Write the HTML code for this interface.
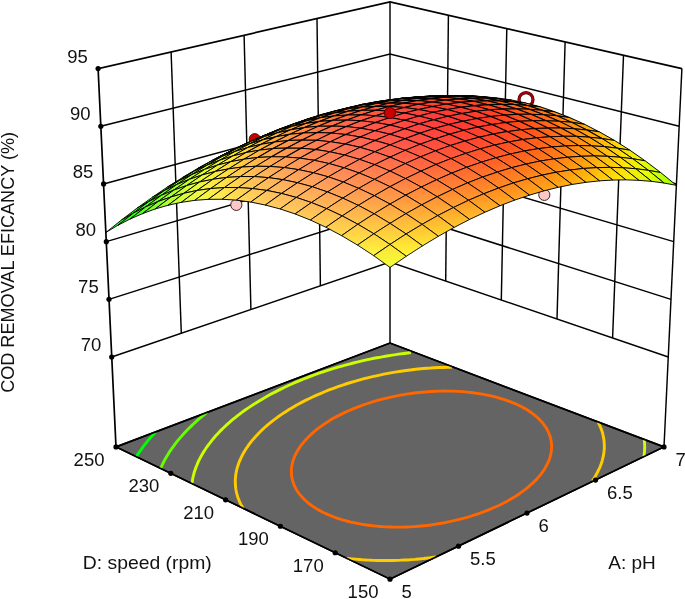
<!DOCTYPE html>
<html><head><meta charset="utf-8"><title>3D Surface</title>
<style>html,body{margin:0;padding:0;background:#fff;overflow:hidden}body{width:685px;height:599px;position:relative}</style></head>
<body>
<svg width="685" height="599" viewBox="0 0 685 599" style="display:block;position:absolute;left:0;top:0">
<rect width="685" height="599" fill="#fff"/>
<g transform="translate(0.3,0.15)">
<polygon points="389.7,579 115.7,446.8 389.7,342.9 663.7,446.8" fill="#646464" stroke="#000" stroke-width="1.6" stroke-linejoin="miter"/>
<g fill="none" stroke-width="2.9" stroke-linecap="butt">
<polyline points="136.1,456.6 136.1,456.5 137.1,454.9 137.6,454.1 138.2,453.2 139.2,451.8 139.4,451.5 140.5,449.9 140.9,449.4 141.7,448.2 142.6,446.9 142.8,446.6 144,445 144.5,444.5 145.3,443.4 146.4,442 146.5,441.9 147.8,440.3 148.5,439.5 149.1,438.8 150.4,437.3 150.7,436.9 151.7,435.8 152.9,434.3 153,434.3 154.4,432.8 155.4,431.7" stroke="#00ff00"/>
<polyline points="160.4,468.3 161.2,466.5 162.1,464.4 163.2,462.1 164.4,459.8 165.7,457.5 166.7,455.8 167.8,454.1 168.8,452.4 170.1,450.4 171.8,448 173.3,445.9 174.5,444.3 175.7,442.8 177.4,440.5 179.4,438.2 180.7,436.7 182,435.2 184.3,432.7 186,430.8 187.4,429.4 189.6,427.2 191.7,425.2 193.1,423.9 195.7,421.5 197.6,419.8 199.1,418.5 202.2,415.9 203.7,414.6 206.7,412.3" stroke="#66ff00"/>
<polyline points="191.7,483.4 192,481.3 192.3,479.2 192.7,477.1 193.2,475.1 193.7,473.1 194.3,471.1 195,469.2 195.6,467.3 196.4,465.5 197.2,463.4 198.2,461.1 199.4,458.8 200.6,456.5 201.5,454.8 202.5,453.1 203.5,451.5 204.9,449.4 206.5,446.9 207.9,445 209.1,443.5 210.3,441.9 212.4,439.3 214,437.4 215.2,435.9 217,434 219.2,431.6 220.6,430.2 222.5,428.3 224.9,426.1 226.3,424.7 228.9,422.4 230.8,420.8 232.6,419.3 235.5,417 237,415.7 240.3,413.2 241.9,412 245.2,409.6 246.9,408.5 250.3,406.2 252.1,405 255.6,402.8 258.8,400.8 261,399.5 264.7,397.3 267.2,395.9 270.3,394.2 274.1,392.2 278,390.2 280,389.2 283.9,387.3 288,385.4 292.1,383.6 296.2,381.8 300.5,380 302.6,379.1 306.9,377.4 311.3,375.8 315.8,374.1 318,373.3 322.6,371.8 327.2,370.2 331.9,368.8 336.7,367.3 341.5,365.9 344,365.2 349,363.9 354,362.6 356.6,362 361.8,360.8 366,359.8 369.8,359 375,357.9 378,357.4 383.1,356.4 386.5,355.8 390.5,355.2 395.3,354.5 398.2,354 403.7,353.3 407.4,352.8 410.6,352.4" stroke="#ccff00"/>
<polyline points="643.9,439.2 644.1,440.9 644.1,441 644.2,442.8 644.3,443 644.3,444.6 644.3,445.1 644.4,446.3 644.4,447.3 644.3,448.1 644.3,449.5 644.3,449.8 644.2,451.5 644.1,451.8 644,453.2 643.9,454.1 643.8,454.9 643.6,456.5" stroke="#ccff00"/>
<polyline points="242.7,508.1 241.3,505.6 240.4,504 239.4,501.8 238.2,498.9 237.5,497.1 237,495.3 236.5,493.5 235.9,490.9 235.5,488.5 235.2,486.1 235.1,484.2 235,482.3 235,480.3 235.1,478.3 235.3,476.3 235.5,474.3 235.9,472.2 236.3,470.2 236.8,468 237.5,465.9 238.2,463.7 239,461.5 239.8,459.7 240.6,458 241.4,456.2 242.3,454.5 243.5,452.3 245,449.8 246.2,447.9 247.3,446.4 248.4,444.8 250.3,442.2 251.9,440.2 253.2,438.8 254.9,436.8 257.1,434.5 258.4,433.1 260.4,431.1 262.6,429 264.1,427.6 267.1,425 268.6,423.7 271.4,421.5 273.3,420 276.1,417.9 278.2,416.3 281.6,414 283.4,412.8 286.9,410.6 288.7,409.4 292.3,407.3 296,405.1 297.9,404.1 301.8,402 305.7,400 309.7,398.1 311.7,397.1 315.8,395.2 320.1,393.4 324.3,391.6 328.7,389.8 333.2,388.2 337.7,386.5 342.4,384.9 346.3,383.6 349.5,382.6 354.4,381.2 359.4,379.8 363,378.8 367.1,377.7 372.3,376.5 375,375.9 380.5,374.7 383.7,374 388.9,373 391.8,372.5 397.7,371.5 400.8,371.1 405.7,370.4 410.1,369.8 413.3,369.4 417.7,368.9 423.2,368.4 426.8,368.1 430.3,367.9 433.9,367.6 438.3,367.4 442.9,367.3 447.4,367.1 451.7,367.1" stroke="#ffcc00"/>
<polyline points="435.7,556.8 435.4,556.9 431.4,557.4 428.7,557.7 427.4,557.9 423.3,558.4 422.1,558.5 419.1,558.8 415.7,559.1 414.8,559.2 410.5,559.5 409.6,559.6 406,559.8 403.8,559.9 401.4,560 398.1,560.2 396.7,560.2 392.7,560.3 391.8,560.4 387.4,560.4 386.9,560.4 382.3,560.4 381.7,560.4 377.4,560.3 376.4,560.3 372.6,560.2 370.9,560.1 368,560 365.2,559.8 363.4,559.7 359.2,559.4 359,559.4 354.8,559 352.9,558.8 350.6,558.6 346.5,558.1 346.2,558" stroke="#ffcc00"/>
<polyline points="597.6,421.7 598.7,423.8 599.7,425.9 600.4,427.6 601.1,429.3 601.7,431.1 602.3,432.9 602.7,434.8 603.1,436.7 603.5,438.7 603.7,440.6 603.9,442.7 604,444.8 604,446.6 604,448.4 603.8,450.1 603.7,451.8 603.4,453.6 603,456 602.4,458.5 602,460.2 601.5,461.8 600.9,463.6 599.9,466.3 599.1,468.2 598.3,469.8 597.2,472 595.9,474.5 595.1,476 593.6,478.3 592.2,480.5" stroke="#ffcc00"/>
<polyline points="336.8,518 332.9,516.6 327.8,514.5 323,512.3 318.6,510 314.8,507.7 312.6,506.2 308.9,503.6 306.5,501.6 304.1,499.4 302,497.2 300,495 298.8,493.5 296.6,490.3 295.7,488.7 294.8,487 293.7,484.6 292.7,481.9 292.2,480.1 291.8,478.3 291.4,476.5 291.2,474.6 291.1,472.6 291.1,470.4 291.2,468.4 291.4,466.4 291.8,464.4 292.2,462.5 292.8,460.3 293.6,458.1 294.5,455.8 295.6,453.6 296.4,452 297.4,450.4 298.5,448.6 300.2,446 301.6,444.1 302.8,442.7 304.6,440.5 306.6,438.4 307.9,437 310.6,434.4 312.2,433 314.5,431 316.8,429.1 319.2,427.3 321.7,425.5 325.1,423.1 326.9,422 330.5,419.7 334,417.7 336.2,416.5 340.2,414.5 344.2,412.5 348.4,410.6 352.7,408.7 357.2,406.9 361.8,405.2 366.5,403.6 371.4,402 376.4,400.5 379,399.8 384.3,398.4 389.5,397.2 392.6,396.5 398.3,395.4 401.3,394.8 405.9,394 410.6,393.4 413.8,392.9 418.7,392.4 424,391.8 427.6,391.6 431.3,391.3 435.2,391.1 439.2,391 443.7,390.9 448,391 452.1,391 456.9,391.2 462,391.5 467,392 470.5,392.3 473.8,392.7 480.2,393.7 483.2,394.2 489.1,395.4 491.9,396 497.3,397.4 502.4,398.9 504.9,399.7 509.6,401.4 514.1,403.2 516.3,404.1 520.4,406.1 524.3,408.2 527.5,410.1 529.7,411.6 533,413.9 534.6,415.2 536.8,417.1 539,419.2 540.3,420.5 542.2,422.6 543.9,424.9 545,426.4 546,427.9 547,429.7 548.1,431.9 549,434 549.7,436.1 550.3,438.1 550.7,440 551,441.9 551.2,443.8 551.3,445.6 551.3,447.5 551.2,449.2 551,451 550.8,452.7 550.3,454.8 549.7,457.2 549,459.4 548.3,461 547.7,462.6 546.4,465.2 545.2,467.2 544.3,468.8 542.6,471.3 541.2,473.2 540.1,474.7 537.7,477.5 536.4,479 533.7,481.7 532.2,483.1 529.2,485.8 527.6,487.2 524.4,489.7 520.9,492.3 519.1,493.6 515.4,496 511.4,498.4 507.3,500.8 503,503.1 498.5,505.3 493.8,507.4 488.9,509.5 483.8,511.5 478.5,513.5 472.9,515.3 470.1,516.2 464.2,517.9 460,519 454.8,520.3 450.2,521.3 444.8,522.4 441.3,523.1 434.1,524.2 430.3,524.8 426.5,525.3 420.8,525.8 414.8,526.4 409.8,526.7 405.3,526.8 400.5,527 395.6,527 390.5,526.9 385.1,526.7 380.2,526.4 376,526 371.9,525.6 366.4,524.9 360.7,524 357.2,523.3 350.5,521.9 347.3,521.1 341.3,519.4 336.8,518" stroke="#ff6600"/>
</g>
<polygon points="389.7,579 115.7,446.8 389.7,342.9 663.7,446.8" fill="none" stroke="#000" stroke-width="1.6"/>
<g fill="none" stroke="#000" stroke-width="1.45">
<polyline points="115.7,446.8 97.8,68.4 389.7,1.8 681.6,68.4" stroke-width="1.7"/>
<line x1="681.6" y1="68.4" x2="663.7" y2="446.8"/>
<line x1="389.7" y1="1.8" x2="389.7" y2="342.9"/>
<polyline points="100.5,126.1 389.7,53.8 678.9,126.1"/>
<polyline points="103.3,183.8 389.7,105.8 676.1,183.8"/>
<polyline points="106,241.5 389.7,157.8 673.4,241.5"/>
<polyline points="108.7,299.2 389.7,209.8 670.7,299.2"/>
<polyline points="111.4,356.9 389.7,261.9 668,356.9"/>
<line x1="181" y1="333.1" x2="170.8" y2="51.8"/>
<line x1="250.6" y1="309.4" x2="243.8" y2="35.1"/>
<line x1="320.1" y1="285.6" x2="316.7" y2="18.5"/>
<line x1="612.3" y1="337.9" x2="623.2" y2="55.1"/>
<line x1="556.7" y1="318.9" x2="564.8" y2="41.8"/>
<line x1="501" y1="299.9" x2="506.5" y2="28.4"/>
<line x1="445.4" y1="280.9" x2="448.1" y2="15.1"/>
</g>
<circle cx="236" cy="204.7" r="5.6" fill="#ffc8c8" stroke="#301010" stroke-width="0.9"/>
<circle cx="544" cy="194.7" r="5.6" fill="#ffc8c8" stroke="#301010" stroke-width="0.9"/>
<circle cx="525.7" cy="99.4" r="7" fill="#fff" stroke="#3a0004" stroke-width="3.2"/><circle cx="525.7" cy="99.4" r="7" fill="none" stroke="#b00010" stroke-width="1.7"/>
<circle cx="254.5" cy="139" r="5.6" fill="#c80000" stroke="#500000" stroke-width="0.9"/>
<defs><linearGradient id="g0" gradientUnits="userSpaceOnUse" x1="389.9" y1="267.2" x2="389.5" y2="244.2"><stop stop-color="#f1ff37"/><stop offset="1" stop-color="#ffe237"/></linearGradient><linearGradient id="g1" gradientUnits="userSpaceOnUse" x1="406.4" y1="256" x2="405.5" y2="233.8"><stop stop-color="#fff935"/><stop offset="1" stop-color="#ffcf35"/></linearGradient><linearGradient id="g2" gradientUnits="userSpaceOnUse" x1="422.7" y1="245.5" x2="421.2" y2="224.2"><stop stop-color="#ffe632"/><stop offset="1" stop-color="#ffbe32"/></linearGradient><linearGradient id="g3" gradientUnits="userSpaceOnUse" x1="438.8" y1="235.9" x2="436.8" y2="215.4"><stop stop-color="#ffd62f"/><stop offset="1" stop-color="#ffaf2f"/></linearGradient><linearGradient id="g4" gradientUnits="userSpaceOnUse" x1="454.7" y1="227.1" x2="452.1" y2="207.4"><stop stop-color="#ffc82c"/><stop offset="1" stop-color="#ffa32c"/></linearGradient><linearGradient id="g5" gradientUnits="userSpaceOnUse" x1="470.4" y1="219" x2="467.2" y2="200.2"><stop stop-color="#ffbc29"/><stop offset="1" stop-color="#ff9829"/></linearGradient><linearGradient id="g6" gradientUnits="userSpaceOnUse" x1="485.9" y1="211.7" x2="482.1" y2="193.8"><stop stop-color="#ffb325"/><stop offset="1" stop-color="#ff9025"/></linearGradient><linearGradient id="g7" gradientUnits="userSpaceOnUse" x1="501.2" y1="205.2" x2="496.8" y2="188.2"><stop stop-color="#ffab22"/><stop offset="1" stop-color="#ff8a22"/></linearGradient><linearGradient id="g8" gradientUnits="userSpaceOnUse" x1="516.2" y1="199.3" x2="511.2" y2="183.3"><stop stop-color="#ffa71e"/><stop offset="1" stop-color="#ff871e"/></linearGradient><linearGradient id="g9" gradientUnits="userSpaceOnUse" x1="531.6" y1="195.4" x2="525.1" y2="178.3"><stop stop-color="#ffa81b"/><stop offset="1" stop-color="#ff861b"/></linearGradient><linearGradient id="g10" gradientUnits="userSpaceOnUse" x1="547" y1="192.3" x2="538.3" y2="173.6"><stop stop-color="#ffac18"/><stop offset="1" stop-color="#ff8618"/></linearGradient><linearGradient id="g11" gradientUnits="userSpaceOnUse" x1="562.5" y1="189.7" x2="551.2" y2="169.7"><stop stop-color="#ffb315"/><stop offset="1" stop-color="#ff8915"/></linearGradient><linearGradient id="g12" gradientUnits="userSpaceOnUse" x1="578" y1="187.6" x2="563.5" y2="166.8"><stop stop-color="#ffbe12"/><stop offset="1" stop-color="#ff8f12"/></linearGradient><linearGradient id="g13" gradientUnits="userSpaceOnUse" x1="593.5" y1="185.8" x2="575.4" y2="165"><stop stop-color="#ffcc0f"/><stop offset="1" stop-color="#ff990f"/></linearGradient><linearGradient id="g14" gradientUnits="userSpaceOnUse" x1="608.9" y1="184" x2="586.9" y2="164.3"><stop stop-color="#ffdd0d"/><stop offset="1" stop-color="#ffa60d"/></linearGradient><linearGradient id="g15" gradientUnits="userSpaceOnUse" x1="624.1" y1="182.3" x2="598.3" y2="165"><stop stop-color="#fff20b"/><stop offset="1" stop-color="#ffb70b"/></linearGradient><linearGradient id="g16" gradientUnits="userSpaceOnUse" x1="638.6" y1="180.4" x2="610" y2="167"><stop stop-color="#f4ff09"/><stop offset="1" stop-color="#ffcb09"/></linearGradient><linearGradient id="g17" gradientUnits="userSpaceOnUse" x1="652.1" y1="178.8" x2="622.1" y2="170.1"><stop stop-color="#d8ff07"/><stop offset="1" stop-color="#ffe207"/></linearGradient><linearGradient id="g18" gradientUnits="userSpaceOnUse" x1="664.6" y1="177.7" x2="634.9" y2="173.8"><stop stop-color="#b9ff06"/><stop offset="1" stop-color="#fffd06"/></linearGradient><linearGradient id="g19" gradientUnits="userSpaceOnUse" x1="676" y1="177.4" x2="648.3" y2="177.9"><stop stop-color="#96ff05"/><stop offset="1" stop-color="#e3ff05"/></linearGradient><linearGradient id="g20" gradientUnits="userSpaceOnUse" x1="373.2" y1="255.4" x2="373.7" y2="233.6"><stop stop-color="#fff73f"/><stop offset="1" stop-color="#ffd13f"/></linearGradient><linearGradient id="g21" gradientUnits="userSpaceOnUse" x1="389.8" y1="244.2" x2="389.6" y2="223.1"><stop stop-color="#ffe33d"/><stop offset="1" stop-color="#ffbe3d"/></linearGradient><linearGradient id="g22" gradientUnits="userSpaceOnUse" x1="406.1" y1="233.8" x2="405.4" y2="213.4"><stop stop-color="#ffd03a"/><stop offset="1" stop-color="#ffad3a"/></linearGradient><linearGradient id="g23" gradientUnits="userSpaceOnUse" x1="422.2" y1="224.1" x2="420.9" y2="204.6"><stop stop-color="#ffc037"/><stop offset="1" stop-color="#ff9e37"/></linearGradient><linearGradient id="g24" gradientUnits="userSpaceOnUse" x1="438.1" y1="215.3" x2="436.3" y2="196.6"><stop stop-color="#ffb134"/><stop offset="1" stop-color="#ff9034"/></linearGradient><linearGradient id="g25" gradientUnits="userSpaceOnUse" x1="453.8" y1="207.2" x2="451.4" y2="189.3"><stop stop-color="#ffa430"/><stop offset="1" stop-color="#ff8530"/></linearGradient><linearGradient id="g26" gradientUnits="userSpaceOnUse" x1="469.3" y1="199.8" x2="466.3" y2="182.8"><stop stop-color="#ff9a2c"/><stop offset="1" stop-color="#ff7c2c"/></linearGradient><linearGradient id="g27" gradientUnits="userSpaceOnUse" x1="484.7" y1="193.2" x2="480.9" y2="177.1"><stop stop-color="#ff9228"/><stop offset="1" stop-color="#ff7528"/></linearGradient><linearGradient id="g28" gradientUnits="userSpaceOnUse" x1="499.8" y1="187.3" x2="495.4" y2="172.2"><stop stop-color="#ff8c24"/><stop offset="1" stop-color="#ff7124"/></linearGradient><linearGradient id="g29" gradientUnits="userSpaceOnUse" x1="515.1" y1="183.1" x2="509.4" y2="167.4"><stop stop-color="#ff8b21"/><stop offset="1" stop-color="#ff6e21"/></linearGradient><linearGradient id="g30" gradientUnits="userSpaceOnUse" x1="530.6" y1="180.1" x2="522.7" y2="162.6"><stop stop-color="#ff8d1d"/><stop offset="1" stop-color="#ff6d1d"/></linearGradient><linearGradient id="g31" gradientUnits="userSpaceOnUse" x1="546.2" y1="177.6" x2="535.4" y2="158.5"><stop stop-color="#ff9319"/><stop offset="1" stop-color="#ff6e19"/></linearGradient><linearGradient id="g32" gradientUnits="userSpaceOnUse" x1="561.9" y1="175.5" x2="547.6" y2="155.5"><stop stop-color="#ff9c16"/><stop offset="1" stop-color="#ff7316"/></linearGradient><linearGradient id="g33" gradientUnits="userSpaceOnUse" x1="577.7" y1="173.5" x2="559.3" y2="153.6"><stop stop-color="#ffa813"/><stop offset="1" stop-color="#ff7b13"/></linearGradient><linearGradient id="g34" gradientUnits="userSpaceOnUse" x1="593.4" y1="171.5" x2="570.6" y2="153.1"><stop stop-color="#ffb810"/><stop offset="1" stop-color="#ff8710"/></linearGradient><linearGradient id="g35" gradientUnits="userSpaceOnUse" x1="608.7" y1="169.3" x2="582" y2="154.1"><stop stop-color="#ffcc0e"/><stop offset="1" stop-color="#ff960e"/></linearGradient><linearGradient id="g36" gradientUnits="userSpaceOnUse" x1="623.1" y1="166.9" x2="593.9" y2="156.5"><stop stop-color="#ffe30b"/><stop offset="1" stop-color="#ffa90b"/></linearGradient><linearGradient id="g37" gradientUnits="userSpaceOnUse" x1="636.2" y1="164.9" x2="606.5" y2="159.9"><stop stop-color="#fffd09"/><stop offset="1" stop-color="#ffbf09"/></linearGradient><linearGradient id="g38" gradientUnits="userSpaceOnUse" x1="648.2" y1="163.6" x2="619.9" y2="163.6"><stop stop-color="#e3ff08"/><stop offset="1" stop-color="#ffd908"/></linearGradient><linearGradient id="g39" gradientUnits="userSpaceOnUse" x1="659.2" y1="163.6" x2="633.9" y2="167.4"><stop stop-color="#c1ff06"/><stop offset="1" stop-color="#fff606"/></linearGradient><linearGradient id="g40" gradientUnits="userSpaceOnUse" x1="356.8" y1="244.8" x2="358.1" y2="224.1"><stop stop-color="#ffe646"/><stop offset="1" stop-color="#ffc546"/></linearGradient><linearGradient id="g41" gradientUnits="userSpaceOnUse" x1="373.3" y1="233.5" x2="374" y2="213.6"><stop stop-color="#ffd244"/><stop offset="1" stop-color="#ffb244"/></linearGradient><linearGradient id="g42" gradientUnits="userSpaceOnUse" x1="389.7" y1="223.1" x2="389.7" y2="203.9"><stop stop-color="#ffc042"/><stop offset="1" stop-color="#ffa142"/></linearGradient><linearGradient id="g43" gradientUnits="userSpaceOnUse" x1="405.8" y1="213.4" x2="405.3" y2="195"><stop stop-color="#ffaf3f"/><stop offset="1" stop-color="#ff913f"/></linearGradient><linearGradient id="g44" gradientUnits="userSpaceOnUse" x1="421.7" y1="204.6" x2="420.6" y2="186.9"><stop stop-color="#ffa03b"/><stop offset="1" stop-color="#ff843b"/></linearGradient><linearGradient id="g45" gradientUnits="userSpaceOnUse" x1="437.4" y1="196.4" x2="435.7" y2="179.5"><stop stop-color="#ff9337"/><stop offset="1" stop-color="#ff7737"/></linearGradient><linearGradient id="g46" gradientUnits="userSpaceOnUse" x1="453" y1="189.1" x2="450.6" y2="173"><stop stop-color="#ff8733"/><stop offset="1" stop-color="#ff6d33"/></linearGradient><linearGradient id="g47" gradientUnits="userSpaceOnUse" x1="468.3" y1="182.4" x2="465.3" y2="167.2"><stop stop-color="#ff7e2f"/><stop offset="1" stop-color="#ff652f"/></linearGradient><linearGradient id="g48" gradientUnits="userSpaceOnUse" x1="483.5" y1="176.5" x2="479.8" y2="162.2"><stop stop-color="#ff772b"/><stop offset="1" stop-color="#ff602b"/></linearGradient><linearGradient id="g49" gradientUnits="userSpaceOnUse" x1="498.7" y1="171.9" x2="493.9" y2="157.7"><stop stop-color="#ff7326"/><stop offset="1" stop-color="#ff5c26"/></linearGradient><linearGradient id="g50" gradientUnits="userSpaceOnUse" x1="514.3" y1="169" x2="507.1" y2="152.6"><stop stop-color="#ff7422"/><stop offset="1" stop-color="#ff5922"/></linearGradient><linearGradient id="g51" gradientUnits="userSpaceOnUse" x1="530.1" y1="166.6" x2="519.8" y2="148.4"><stop stop-color="#ff781e"/><stop offset="1" stop-color="#ff591e"/></linearGradient><linearGradient id="g52" gradientUnits="userSpaceOnUse" x1="546.1" y1="164.4" x2="531.7" y2="145.2"><stop stop-color="#ff801a"/><stop offset="1" stop-color="#ff5d1a"/></linearGradient><linearGradient id="g53" gradientUnits="userSpaceOnUse" x1="562.3" y1="162.3" x2="543.1" y2="143.4"><stop stop-color="#ff8a17"/><stop offset="1" stop-color="#ff6317"/></linearGradient><linearGradient id="g54" gradientUnits="userSpaceOnUse" x1="578.4" y1="159.8" x2="554.2" y2="143.2"><stop stop-color="#ff9914"/><stop offset="1" stop-color="#ff6d14"/></linearGradient><linearGradient id="g55" gradientUnits="userSpaceOnUse" x1="593.7" y1="156.8" x2="565.7" y2="144.8"><stop stop-color="#ffab11"/><stop offset="1" stop-color="#ff7b11"/></linearGradient><linearGradient id="g56" gradientUnits="userSpaceOnUse" x1="607.6" y1="153.8" x2="578" y2="147.7"><stop stop-color="#ffc00e"/><stop offset="1" stop-color="#ff8c0e"/></linearGradient><linearGradient id="g57" gradientUnits="userSpaceOnUse" x1="620" y1="151.5" x2="591.5" y2="151.2"><stop stop-color="#ffd90c"/><stop offset="1" stop-color="#ffa10c"/></linearGradient><linearGradient id="g58" gradientUnits="userSpaceOnUse" x1="631.3" y1="150.5" x2="605.7" y2="154.6"><stop stop-color="#fff60a"/><stop offset="1" stop-color="#ffb90a"/></linearGradient><linearGradient id="g59" gradientUnits="userSpaceOnUse" x1="641.9" y1="150.9" x2="620.1" y2="157.7"><stop stop-color="#e8ff08"/><stop offset="1" stop-color="#ffd508"/></linearGradient><linearGradient id="g60" gradientUnits="userSpaceOnUse" x1="340.6" y1="235.3" x2="342.7" y2="215.8"><stop stop-color="#ffdb4d"/><stop offset="1" stop-color="#ffbd4d"/></linearGradient><linearGradient id="g61" gradientUnits="userSpaceOnUse" x1="357.1" y1="224" x2="358.6" y2="205.2"><stop stop-color="#ffc74c"/><stop offset="1" stop-color="#ffaa4c"/></linearGradient><linearGradient id="g62" gradientUnits="userSpaceOnUse" x1="373.4" y1="213.5" x2="374.3" y2="195.4"><stop stop-color="#ffb449"/><stop offset="1" stop-color="#ff9949"/></linearGradient><linearGradient id="g63" gradientUnits="userSpaceOnUse" x1="389.5" y1="203.9" x2="389.9" y2="186.5"><stop stop-color="#ffa346"/><stop offset="1" stop-color="#ff8a46"/></linearGradient><linearGradient id="g64" gradientUnits="userSpaceOnUse" x1="405.5" y1="195" x2="405.2" y2="178.3"><stop stop-color="#ff9443"/><stop offset="1" stop-color="#ff7b43"/></linearGradient><linearGradient id="g65" gradientUnits="userSpaceOnUse" x1="421.2" y1="186.8" x2="420.3" y2="170.9"><stop stop-color="#ff863f"/><stop offset="1" stop-color="#ff6f3f"/></linearGradient><linearGradient id="g66" gradientUnits="userSpaceOnUse" x1="436.8" y1="179.4" x2="435.2" y2="164.3"><stop stop-color="#ff7a3a"/><stop offset="1" stop-color="#ff643a"/></linearGradient><linearGradient id="g67" gradientUnits="userSpaceOnUse" x1="452.2" y1="172.8" x2="449.9" y2="158.4"><stop stop-color="#ff6f36"/><stop offset="1" stop-color="#ff5b36"/></linearGradient><linearGradient id="g68" gradientUnits="userSpaceOnUse" x1="467.4" y1="166.8" x2="464.3" y2="153.3"><stop stop-color="#ff6731"/><stop offset="1" stop-color="#ff5431"/></linearGradient><linearGradient id="g69" gradientUnits="userSpaceOnUse" x1="482.5" y1="161.8" x2="478.5" y2="149"><stop stop-color="#ff612c"/><stop offset="1" stop-color="#ff502c"/></linearGradient><linearGradient id="g70" gradientUnits="userSpaceOnUse" x1="498.2" y1="159" x2="491.8" y2="143.8"><stop stop-color="#ff6128"/><stop offset="1" stop-color="#ff4b28"/></linearGradient><linearGradient id="g71" gradientUnits="userSpaceOnUse" x1="514.3" y1="156.6" x2="504.2" y2="139.3"><stop stop-color="#ff6323"/><stop offset="1" stop-color="#ff4a23"/></linearGradient><linearGradient id="g72" gradientUnits="userSpaceOnUse" x1="530.8" y1="154.5" x2="515.8" y2="136"><stop stop-color="#ff691f"/><stop offset="1" stop-color="#ff4c1f"/></linearGradient><linearGradient id="g73" gradientUnits="userSpaceOnUse" x1="547.5" y1="151.9" x2="526.7" y2="134.5"><stop stop-color="#ff721b"/><stop offset="1" stop-color="#ff511b"/></linearGradient><linearGradient id="g74" gradientUnits="userSpaceOnUse" x1="563.9" y1="148.5" x2="537.6" y2="135"><stop stop-color="#ff7f17"/><stop offset="1" stop-color="#ff5917"/></linearGradient><linearGradient id="g75" gradientUnits="userSpaceOnUse" x1="578.7" y1="144.5" x2="549.5" y2="137.5"><stop stop-color="#ff8f14"/><stop offset="1" stop-color="#ff6514"/></linearGradient><linearGradient id="g76" gradientUnits="userSpaceOnUse" x1="591.6" y1="141" x2="563" y2="140.7"><stop stop-color="#ffa311"/><stop offset="1" stop-color="#ff7511"/></linearGradient><linearGradient id="g77" gradientUnits="userSpaceOnUse" x1="603" y1="139" x2="577.6" y2="143.7"><stop stop-color="#ffbb0e"/><stop offset="1" stop-color="#ff880e"/></linearGradient><linearGradient id="g78" gradientUnits="userSpaceOnUse" x1="613.7" y1="138.6" x2="592.4" y2="146.3"><stop stop-color="#ffd60c"/><stop offset="1" stop-color="#ff9f0c"/></linearGradient><linearGradient id="g79" gradientUnits="userSpaceOnUse" x1="624.3" y1="139.7" x2="607" y2="148.6"><stop stop-color="#fff50a"/><stop offset="1" stop-color="#ffba0a"/></linearGradient><linearGradient id="g80" gradientUnits="userSpaceOnUse" x1="324.5" y1="226.9" x2="327.5" y2="208.6"><stop stop-color="#ffd353"/><stop offset="1" stop-color="#ffb953"/></linearGradient><linearGradient id="g81" gradientUnits="userSpaceOnUse" x1="341" y1="215.6" x2="343.4" y2="198"><stop stop-color="#ffbf52"/><stop offset="1" stop-color="#ffa652"/></linearGradient><linearGradient id="g82" gradientUnits="userSpaceOnUse" x1="357.3" y1="205.1" x2="359.2" y2="188.2"><stop stop-color="#ffac50"/><stop offset="1" stop-color="#ff9550"/></linearGradient><linearGradient id="g83" gradientUnits="userSpaceOnUse" x1="373.5" y1="195.4" x2="374.7" y2="179.1"><stop stop-color="#ff9b4d"/><stop offset="1" stop-color="#ff864d"/></linearGradient><linearGradient id="g84" gradientUnits="userSpaceOnUse" x1="389.4" y1="186.5" x2="390" y2="170.8"><stop stop-color="#ff8c49"/><stop offset="1" stop-color="#ff7749"/></linearGradient><linearGradient id="g85" gradientUnits="userSpaceOnUse" x1="405.2" y1="178.3" x2="405.1" y2="163.3"><stop stop-color="#ff7d45"/><stop offset="1" stop-color="#ff6a45"/></linearGradient><linearGradient id="g86" gradientUnits="userSpaceOnUse" x1="420.7" y1="170.9" x2="420" y2="156.6"><stop stop-color="#ff7041"/><stop offset="1" stop-color="#ff5e41"/></linearGradient><linearGradient id="g87" gradientUnits="userSpaceOnUse" x1="436.2" y1="164.1" x2="434.7" y2="150.7"><stop stop-color="#ff653c"/><stop offset="1" stop-color="#ff553c"/></linearGradient><linearGradient id="g88" gradientUnits="userSpaceOnUse" x1="451.4" y1="158.1" x2="449.1" y2="145.5"><stop stop-color="#ff5c37"/><stop offset="1" stop-color="#ff4d37"/></linearGradient><linearGradient id="g89" gradientUnits="userSpaceOnUse" x1="466.5" y1="152.7" x2="463.3" y2="141.1"><stop stop-color="#ff5532"/><stop offset="1" stop-color="#ff4732"/></linearGradient><linearGradient id="g90" gradientUnits="userSpaceOnUse" x1="482.3" y1="150" x2="476.5" y2="136"><stop stop-color="#ff532d"/><stop offset="1" stop-color="#ff422d"/></linearGradient><linearGradient id="g91" gradientUnits="userSpaceOnUse" x1="498.8" y1="147.9" x2="488.6" y2="131.2"><stop stop-color="#ff5428"/><stop offset="1" stop-color="#ff4028"/></linearGradient><linearGradient id="g92" gradientUnits="userSpaceOnUse" x1="516.1" y1="145.5" x2="499.5" y2="127.9"><stop stop-color="#ff5824"/><stop offset="1" stop-color="#ff4024"/></linearGradient><linearGradient id="g93" gradientUnits="userSpaceOnUse" x1="533.6" y1="142" x2="509.7" y2="127.2"><stop stop-color="#ff5f1f"/><stop offset="1" stop-color="#ff431f"/></linearGradient><linearGradient id="g94" gradientUnits="userSpaceOnUse" x1="549.7" y1="137" x2="520.9" y2="129.1"><stop stop-color="#ff6a1b"/><stop offset="1" stop-color="#ff4a1b"/></linearGradient><linearGradient id="g95" gradientUnits="userSpaceOnUse" x1="563" y1="132" x2="534.4" y2="132.3"><stop stop-color="#ff7917"/><stop offset="1" stop-color="#ff5417"/></linearGradient><linearGradient id="g96" gradientUnits="userSpaceOnUse" x1="574.4" y1="128.9" x2="549.5" y2="135"><stop stop-color="#ff8b14"/><stop offset="1" stop-color="#ff6314"/></linearGradient><linearGradient id="g97" gradientUnits="userSpaceOnUse" x1="585" y1="127.9" x2="564.9" y2="136.9"><stop stop-color="#ffa111"/><stop offset="1" stop-color="#ff7411"/></linearGradient><linearGradient id="g98" gradientUnits="userSpaceOnUse" x1="595.7" y1="128.5" x2="579.8" y2="138.3"><stop stop-color="#ffbb0e"/><stop offset="1" stop-color="#ff8a0e"/></linearGradient><linearGradient id="g99" gradientUnits="userSpaceOnUse" x1="606.6" y1="130.3" x2="594.2" y2="139.8"><stop stop-color="#ffd90b"/><stop offset="1" stop-color="#ffa30b"/></linearGradient><linearGradient id="g100" gradientUnits="userSpaceOnUse" x1="308.7" y1="219.5" x2="312.6" y2="202.7"><stop stop-color="#ffce58"/><stop offset="1" stop-color="#ffb758"/></linearGradient><linearGradient id="g101" gradientUnits="userSpaceOnUse" x1="325.1" y1="208.2" x2="328.5" y2="191.9"><stop stop-color="#ffba57"/><stop offset="1" stop-color="#ffa557"/></linearGradient><linearGradient id="g102" gradientUnits="userSpaceOnUse" x1="341.4" y1="197.7" x2="344.2" y2="182"><stop stop-color="#ffa855"/><stop offset="1" stop-color="#ff9455"/></linearGradient><linearGradient id="g103" gradientUnits="userSpaceOnUse" x1="357.5" y1="187.9" x2="359.8" y2="172.9"><stop stop-color="#ff9752"/><stop offset="1" stop-color="#ff8552"/></linearGradient><linearGradient id="g104" gradientUnits="userSpaceOnUse" x1="373.5" y1="179" x2="375.1" y2="164.5"><stop stop-color="#ff874f"/><stop offset="1" stop-color="#ff764f"/></linearGradient><linearGradient id="g105" gradientUnits="userSpaceOnUse" x1="389.2" y1="170.8" x2="390.2" y2="156.9"><stop stop-color="#ff794b"/><stop offset="1" stop-color="#ff694b"/></linearGradient><linearGradient id="g106" gradientUnits="userSpaceOnUse" x1="404.8" y1="163.3" x2="405.1" y2="150.1"><stop stop-color="#ff6b47"/><stop offset="1" stop-color="#ff5d47"/></linearGradient><linearGradient id="g107" gradientUnits="userSpaceOnUse" x1="420.3" y1="156.6" x2="419.7" y2="144"><stop stop-color="#ff5f42"/><stop offset="1" stop-color="#ff5242"/></linearGradient><linearGradient id="g108" gradientUnits="userSpaceOnUse" x1="435.6" y1="150.5" x2="434.1" y2="138.7"><stop stop-color="#ff553d"/><stop offset="1" stop-color="#ff493d"/></linearGradient><linearGradient id="g109" gradientUnits="userSpaceOnUse" x1="450.8" y1="145.1" x2="448.2" y2="134.2"><stop stop-color="#ff4d38"/><stop offset="1" stop-color="#ff4338"/></linearGradient><linearGradient id="g110" gradientUnits="userSpaceOnUse" x1="466.6" y1="142.1" x2="461.5" y2="129.3"><stop stop-color="#ff4932"/><stop offset="1" stop-color="#ff3d32"/></linearGradient><linearGradient id="g111" gradientUnits="userSpaceOnUse" x1="483.9" y1="140.3" x2="472.8" y2="124"><stop stop-color="#ff492d"/><stop offset="1" stop-color="#ff392d"/></linearGradient><linearGradient id="g112" gradientUnits="userSpaceOnUse" x1="502.7" y1="137.2" x2="482.3" y2="121.3"><stop stop-color="#ff4b28"/><stop offset="1" stop-color="#ff3828"/></linearGradient><linearGradient id="g113" gradientUnits="userSpaceOnUse" x1="520.5" y1="131.1" x2="492.3" y2="122.9"><stop stop-color="#ff5123"/><stop offset="1" stop-color="#ff3a23"/></linearGradient><linearGradient id="g114" gradientUnits="userSpaceOnUse" x1="534.1" y1="124.3" x2="505.9" y2="126.4"><stop stop-color="#ff5a1f"/><stop offset="1" stop-color="#ff401f"/></linearGradient><linearGradient id="g115" gradientUnits="userSpaceOnUse" x1="545" y1="120.2" x2="521.9" y2="128.6"><stop stop-color="#ff671a"/><stop offset="1" stop-color="#ff491a"/></linearGradient><linearGradient id="g116" gradientUnits="userSpaceOnUse" x1="555.5" y1="118.8" x2="537.8" y2="129.3"><stop stop-color="#ff7817"/><stop offset="1" stop-color="#ff5517"/></linearGradient><linearGradient id="g117" gradientUnits="userSpaceOnUse" x1="566.4" y1="119.1" x2="553" y2="129.7"><stop stop-color="#ff8d13"/><stop offset="1" stop-color="#ff6613"/></linearGradient><linearGradient id="g118" gradientUnits="userSpaceOnUse" x1="577.7" y1="120.5" x2="567.4" y2="130.2"><stop stop-color="#ffa510"/><stop offset="1" stop-color="#ff7a10"/></linearGradient><linearGradient id="g119" gradientUnits="userSpaceOnUse" x1="589.2" y1="122.5" x2="581.2" y2="131.2"><stop stop-color="#ffc20d"/><stop offset="1" stop-color="#ff920d"/></linearGradient><linearGradient id="g120" gradientUnits="userSpaceOnUse" x1="293" y1="213.2" x2="298" y2="197.9"><stop stop-color="#ffcc5b"/><stop offset="1" stop-color="#ffb85b"/></linearGradient><linearGradient id="g121" gradientUnits="userSpaceOnUse" x1="309.4" y1="201.8" x2="313.9" y2="187.1"><stop stop-color="#ffb85a"/><stop offset="1" stop-color="#ffa65a"/></linearGradient><linearGradient id="g122" gradientUnits="userSpaceOnUse" x1="325.7" y1="191.2" x2="329.6" y2="177.1"><stop stop-color="#ffa659"/><stop offset="1" stop-color="#ff9559"/></linearGradient><linearGradient id="g123" gradientUnits="userSpaceOnUse" x1="341.8" y1="181.5" x2="345.1" y2="167.8"><stop stop-color="#ff9556"/><stop offset="1" stop-color="#ff8656"/></linearGradient><linearGradient id="g124" gradientUnits="userSpaceOnUse" x1="357.7" y1="172.5" x2="360.4" y2="159.4"><stop stop-color="#ff8553"/><stop offset="1" stop-color="#ff7753"/></linearGradient><linearGradient id="g125" gradientUnits="userSpaceOnUse" x1="373.4" y1="164.3" x2="375.6" y2="151.7"><stop stop-color="#ff7750"/><stop offset="1" stop-color="#ff6a50"/></linearGradient><linearGradient id="g126" gradientUnits="userSpaceOnUse" x1="389" y1="156.8" x2="390.5" y2="144.7"><stop stop-color="#ff694b"/><stop offset="1" stop-color="#ff5d4b"/></linearGradient><linearGradient id="g127" gradientUnits="userSpaceOnUse" x1="404.4" y1="150" x2="405.1" y2="138.5"><stop stop-color="#ff5d47"/><stop offset="1" stop-color="#ff5347"/></linearGradient><linearGradient id="g128" gradientUnits="userSpaceOnUse" x1="419.7" y1="144" x2="419.5" y2="133"><stop stop-color="#ff5242"/><stop offset="1" stop-color="#ff4942"/></linearGradient><linearGradient id="g129" gradientUnits="userSpaceOnUse" x1="435" y1="138.5" x2="433.5" y2="128.3"><stop stop-color="#ff493c"/><stop offset="1" stop-color="#ff423c"/></linearGradient><linearGradient id="g130" gradientUnits="userSpaceOnUse" x1="451.1" y1="135.3" x2="446.6" y2="123.8"><stop stop-color="#ff4337"/><stop offset="1" stop-color="#ff3c37"/></linearGradient><linearGradient id="g131" gradientUnits="userSpaceOnUse" x1="470.6" y1="133.9" x2="455.9" y2="117.9"><stop stop-color="#ff4231"/><stop offset="1" stop-color="#ff3731"/></linearGradient><linearGradient id="g132" gradientUnits="userSpaceOnUse" x1="491.4" y1="126.6" x2="463.5" y2="118.9"><stop stop-color="#ff432c"/><stop offset="1" stop-color="#ff352c"/></linearGradient><linearGradient id="g133" gradientUnits="userSpaceOnUse" x1="504.4" y1="117.1" x2="478.1" y2="123.5"><stop stop-color="#ff4727"/><stop offset="1" stop-color="#ff3627"/></linearGradient><linearGradient id="g134" gradientUnits="userSpaceOnUse" x1="514.3" y1="112.9" x2="495.4" y2="124.3"><stop stop-color="#ff4f22"/><stop offset="1" stop-color="#ff3a22"/></linearGradient><linearGradient id="g135" gradientUnits="userSpaceOnUse" x1="525" y1="111.8" x2="511.5" y2="123.4"><stop stop-color="#ff5b1e"/><stop offset="1" stop-color="#ff411e"/></linearGradient><linearGradient id="g136" gradientUnits="userSpaceOnUse" x1="536.5" y1="111.9" x2="526.6" y2="122.6"><stop stop-color="#ff6a1a"/><stop offset="1" stop-color="#ff4d1a"/></linearGradient><linearGradient id="g137" gradientUnits="userSpaceOnUse" x1="548.4" y1="112.7" x2="540.8" y2="122.2"><stop stop-color="#ff7d16"/><stop offset="1" stop-color="#ff5c16"/></linearGradient><linearGradient id="g138" gradientUnits="userSpaceOnUse" x1="560.5" y1="114.2" x2="554.6" y2="122.4"><stop stop-color="#ff9412"/><stop offset="1" stop-color="#ff6f12"/></linearGradient><linearGradient id="g139" gradientUnits="userSpaceOnUse" x1="572.6" y1="116.2" x2="567.9" y2="123.2"><stop stop-color="#ffaf0f"/><stop offset="1" stop-color="#ff850f"/></linearGradient><linearGradient id="g140" gradientUnits="userSpaceOnUse" x1="276.4" y1="210.1" x2="284.5" y2="192.2"><stop stop-color="#ffcf5c"/><stop offset="1" stop-color="#ffb95c"/></linearGradient><linearGradient id="g141" gradientUnits="userSpaceOnUse" x1="293" y1="198.5" x2="300.2" y2="181.6"><stop stop-color="#ffbb5c"/><stop offset="1" stop-color="#ffa75c"/></linearGradient><linearGradient id="g142" gradientUnits="userSpaceOnUse" x1="309.4" y1="187.6" x2="315.8" y2="171.9"><stop stop-color="#ffa95b"/><stop offset="1" stop-color="#ff975b"/></linearGradient><linearGradient id="g143" gradientUnits="userSpaceOnUse" x1="325.6" y1="177.5" x2="331.2" y2="162.9"><stop stop-color="#ff9759"/><stop offset="1" stop-color="#ff8859"/></linearGradient><linearGradient id="g144" gradientUnits="userSpaceOnUse" x1="341.6" y1="168.1" x2="346.3" y2="154.7"><stop stop-color="#ff8756"/><stop offset="1" stop-color="#ff7a56"/></linearGradient><linearGradient id="g145" gradientUnits="userSpaceOnUse" x1="357.4" y1="159.4" x2="361.3" y2="147.4"><stop stop-color="#ff7853"/><stop offset="1" stop-color="#ff6d53"/></linearGradient><linearGradient id="g146" gradientUnits="userSpaceOnUse" x1="373.1" y1="151.3" x2="376.2" y2="140.5"><stop stop-color="#ff694f"/><stop offset="1" stop-color="#ff614f"/></linearGradient><linearGradient id="g147" gradientUnits="userSpaceOnUse" x1="388.5" y1="144.2" x2="391" y2="134.2"><stop stop-color="#ff5c4a"/><stop offset="1" stop-color="#ff554a"/></linearGradient><linearGradient id="g148" gradientUnits="userSpaceOnUse" x1="403.8" y1="138.2" x2="405.4" y2="128.4"><stop stop-color="#ff5145"/><stop offset="1" stop-color="#ff4c45"/></linearGradient><linearGradient id="g149" gradientUnits="userSpaceOnUse" x1="419.1" y1="132.8" x2="419.4" y2="123.4"><stop stop-color="#ff4840"/><stop offset="1" stop-color="#ff4440"/></linearGradient><linearGradient id="g150" gradientUnits="userSpaceOnUse" x1="435.6" y1="129.4" x2="432.1" y2="119.4"><stop stop-color="#ff413b"/><stop offset="1" stop-color="#ff3e3b"/></linearGradient><linearGradient id="g151" gradientUnits="userSpaceOnUse" x1="463.3" y1="121.7" x2="434.2" y2="119"><stop stop-color="#ff3e35"/><stop offset="1" stop-color="#ff3835"/></linearGradient><linearGradient id="g152" gradientUnits="userSpaceOnUse" x1="471" y1="110.4" x2="453.8" y2="123.5"><stop stop-color="#ff3e30"/><stop offset="1" stop-color="#ff3530"/></linearGradient><linearGradient id="g153" gradientUnits="userSpaceOnUse" x1="481.3" y1="108.4" x2="470.9" y2="120.8"><stop stop-color="#ff422a"/><stop offset="1" stop-color="#ff352a"/></linearGradient><linearGradient id="g154" gradientUnits="userSpaceOnUse" x1="493.5" y1="107.5" x2="486.1" y2="118.3"><stop stop-color="#ff4825"/><stop offset="1" stop-color="#ff3825"/></linearGradient><linearGradient id="g155" gradientUnits="userSpaceOnUse" x1="506.1" y1="107.2" x2="500.4" y2="116.5"><stop stop-color="#ff5221"/><stop offset="1" stop-color="#ff3e21"/></linearGradient><linearGradient id="g156" gradientUnits="userSpaceOnUse" x1="518.9" y1="107.3" x2="514.3" y2="115.4"><stop stop-color="#ff601c"/><stop offset="1" stop-color="#ff481c"/></linearGradient><linearGradient id="g157" gradientUnits="userSpaceOnUse" x1="531.6" y1="108" x2="527.9" y2="115"><stop stop-color="#ff7218"/><stop offset="1" stop-color="#ff5618"/></linearGradient><linearGradient id="g158" gradientUnits="userSpaceOnUse" x1="544.2" y1="109.3" x2="541.1" y2="115.2"><stop stop-color="#ff8814"/><stop offset="1" stop-color="#ff6814"/></linearGradient><linearGradient id="g159" gradientUnits="userSpaceOnUse" x1="556.6" y1="111" x2="554.2" y2="116.1"><stop stop-color="#ffa211"/><stop offset="1" stop-color="#ff7d11"/></linearGradient><linearGradient id="g160" gradientUnits="userSpaceOnUse" x1="259.4" y1="207.7" x2="272.1" y2="187.7"><stop stop-color="#ffd55b"/><stop offset="1" stop-color="#ffbb5b"/></linearGradient><linearGradient id="g161" gradientUnits="userSpaceOnUse" x1="275.8" y1="196.2" x2="287.8" y2="176.9"><stop stop-color="#ffc15c"/><stop offset="1" stop-color="#ffa95c"/></linearGradient><linearGradient id="g162" gradientUnits="userSpaceOnUse" x1="292.1" y1="185.5" x2="303.5" y2="166.8"><stop stop-color="#ffae5b"/><stop offset="1" stop-color="#ff995b"/></linearGradient><linearGradient id="g163" gradientUnits="userSpaceOnUse" x1="308.1" y1="175.5" x2="319" y2="157.6"><stop stop-color="#ff9c5a"/><stop offset="1" stop-color="#ff895a"/></linearGradient><linearGradient id="g164" gradientUnits="userSpaceOnUse" x1="323.9" y1="166.3" x2="334.3" y2="149"><stop stop-color="#ff8c57"/><stop offset="1" stop-color="#ff7b57"/></linearGradient><linearGradient id="g165" gradientUnits="userSpaceOnUse" x1="339.4" y1="157.9" x2="349.6" y2="141.3"><stop stop-color="#ff7d54"/><stop offset="1" stop-color="#ff6e54"/></linearGradient><linearGradient id="g166" gradientUnits="userSpaceOnUse" x1="354.6" y1="150.3" x2="364.8" y2="134.2"><stop stop-color="#ff6e51"/><stop offset="1" stop-color="#ff6251"/></linearGradient><linearGradient id="g167" gradientUnits="userSpaceOnUse" x1="369.4" y1="143.5" x2="380" y2="127.8"><stop stop-color="#ff614c"/><stop offset="1" stop-color="#ff584c"/></linearGradient><linearGradient id="g168" gradientUnits="userSpaceOnUse" x1="383.4" y1="137.6" x2="395.5" y2="122"><stop stop-color="#ff5548"/><stop offset="1" stop-color="#ff4e48"/></linearGradient><linearGradient id="g169" gradientUnits="userSpaceOnUse" x1="394" y1="132" x2="413.5" y2="117.5"><stop stop-color="#ff4b43"/><stop offset="1" stop-color="#ff4743"/></linearGradient><linearGradient id="g170" gradientUnits="userSpaceOnUse" x1="415.4" y1="113" x2="421.3" y2="124.5"><stop stop-color="#ff433d"/><stop offset="1" stop-color="#ff413d"/></linearGradient><linearGradient id="g171" gradientUnits="userSpaceOnUse" x1="433.6" y1="112.7" x2="432.6" y2="119.9"><stop stop-color="#ff3e38"/><stop offset="1" stop-color="#ff3b38"/></linearGradient><linearGradient id="g172" gradientUnits="userSpaceOnUse" x1="448.1" y1="109.6" x2="446.4" y2="116"><stop stop-color="#ff3d32"/><stop offset="1" stop-color="#ff3832"/></linearGradient><linearGradient id="g173" gradientUnits="userSpaceOnUse" x1="462.2" y1="107" x2="460.3" y2="113.3"><stop stop-color="#ff3f2d"/><stop offset="1" stop-color="#ff372d"/></linearGradient><linearGradient id="g174" gradientUnits="userSpaceOnUse" x1="475.9" y1="105.3" x2="473.9" y2="111.3"><stop stop-color="#ff4528"/><stop offset="1" stop-color="#ff3928"/></linearGradient><linearGradient id="g175" gradientUnits="userSpaceOnUse" x1="489.4" y1="104.3" x2="487.5" y2="109.9"><stop stop-color="#ff4e23"/><stop offset="1" stop-color="#ff3f23"/></linearGradient><linearGradient id="g176" gradientUnits="userSpaceOnUse" x1="502.7" y1="103.9" x2="500.9" y2="109.1"><stop stop-color="#ff5b1e"/><stop offset="1" stop-color="#ff481e"/></linearGradient><linearGradient id="g177" gradientUnits="userSpaceOnUse" x1="515.8" y1="104.3" x2="514.1" y2="108.8"><stop stop-color="#ff6c1a"/><stop offset="1" stop-color="#ff551a"/></linearGradient><linearGradient id="g178" gradientUnits="userSpaceOnUse" x1="528.6" y1="105.2" x2="527.2" y2="109.1"><stop stop-color="#ff8016"/><stop offset="1" stop-color="#ff6516"/></linearGradient><linearGradient id="g179" gradientUnits="userSpaceOnUse" x1="541.3" y1="106.7" x2="540.1" y2="110"><stop stop-color="#ff9913"/><stop offset="1" stop-color="#ff7a13"/></linearGradient><linearGradient id="g180" gradientUnits="userSpaceOnUse" x1="241.9" y1="205.5" x2="260.6" y2="185"><stop stop-color="#ffde58"/><stop offset="1" stop-color="#ffbf58"/></linearGradient><linearGradient id="g181" gradientUnits="userSpaceOnUse" x1="258" y1="194" x2="276.6" y2="174.1"><stop stop-color="#ffc959"/><stop offset="1" stop-color="#ffad59"/></linearGradient><linearGradient id="g182" gradientUnits="userSpaceOnUse" x1="273.9" y1="183.2" x2="292.5" y2="163.9"><stop stop-color="#ffb559"/><stop offset="1" stop-color="#ff9c59"/></linearGradient><linearGradient id="g183" gradientUnits="userSpaceOnUse" x1="289.4" y1="173.2" x2="308.4" y2="154.6"><stop stop-color="#ffa358"/><stop offset="1" stop-color="#ff8d58"/></linearGradient><linearGradient id="g184" gradientUnits="userSpaceOnUse" x1="304.6" y1="163.8" x2="324.3" y2="146.1"><stop stop-color="#ff9357"/><stop offset="1" stop-color="#ff7f57"/></linearGradient><linearGradient id="g185" gradientUnits="userSpaceOnUse" x1="319.2" y1="155" x2="340.4" y2="138.5"><stop stop-color="#ff8454"/><stop offset="1" stop-color="#ff7154"/></linearGradient><linearGradient id="g186" gradientUnits="userSpaceOnUse" x1="333" y1="146.4" x2="356.9" y2="132.1"><stop stop-color="#ff7551"/><stop offset="1" stop-color="#ff6551"/></linearGradient><linearGradient id="g187" gradientUnits="userSpaceOnUse" x1="346" y1="137.1" x2="373.8" y2="128"><stop stop-color="#ff684d"/><stop offset="1" stop-color="#ff5b4d"/></linearGradient><linearGradient id="g188" gradientUnits="userSpaceOnUse" x1="360.3" y1="125" x2="389" y2="127.8"><stop stop-color="#ff5c49"/><stop offset="1" stop-color="#ff5149"/></linearGradient><linearGradient id="g189" gradientUnits="userSpaceOnUse" x1="381.5" y1="114.2" x2="397.4" y2="127.6"><stop stop-color="#ff5244"/><stop offset="1" stop-color="#ff4944"/></linearGradient><linearGradient id="g190" gradientUnits="userSpaceOnUse" x1="402.2" y1="111.8" x2="406" y2="120.7"><stop stop-color="#ff493f"/><stop offset="1" stop-color="#ff433f"/></linearGradient><linearGradient id="g191" gradientUnits="userSpaceOnUse" x1="418.1" y1="109.5" x2="418.9" y2="115.9"><stop stop-color="#ff443a"/><stop offset="1" stop-color="#ff3e3a"/></linearGradient><linearGradient id="g192" gradientUnits="userSpaceOnUse" x1="432.6" y1="106.4" x2="432.6" y2="112.3"><stop stop-color="#ff4234"/><stop offset="1" stop-color="#ff3a34"/></linearGradient><linearGradient id="g193" gradientUnits="userSpaceOnUse" x1="446.8" y1="104.1" x2="446.3" y2="109.4"><stop stop-color="#ff432f"/><stop offset="1" stop-color="#ff392f"/></linearGradient><linearGradient id="g194" gradientUnits="userSpaceOnUse" x1="460.6" y1="102.4" x2="459.9" y2="107.1"><stop stop-color="#ff482a"/><stop offset="1" stop-color="#ff3b2a"/></linearGradient><linearGradient id="g195" gradientUnits="userSpaceOnUse" x1="474.2" y1="101.4" x2="473.4" y2="105.4"><stop stop-color="#ff4f25"/><stop offset="1" stop-color="#ff4125"/></linearGradient><linearGradient id="g196" gradientUnits="userSpaceOnUse" x1="487.5" y1="100.9" x2="486.8" y2="104.4"><stop stop-color="#ff5b20"/><stop offset="1" stop-color="#ff4a20"/></linearGradient><linearGradient id="g197" gradientUnits="userSpaceOnUse" x1="500.7" y1="101.1" x2="500" y2="104"><stop stop-color="#ff6a1c"/><stop offset="1" stop-color="#ff561c"/></linearGradient><linearGradient id="g198" gradientUnits="userSpaceOnUse" x1="513.6" y1="101.8" x2="513" y2="104.2"><stop stop-color="#ff7d18"/><stop offset="1" stop-color="#ff6618"/></linearGradient><linearGradient id="g199" gradientUnits="userSpaceOnUse" x1="526.4" y1="103.1" x2="525.9" y2="105"><stop stop-color="#ff9414"/><stop offset="1" stop-color="#ff7b14"/></linearGradient><linearGradient id="g200" gradientUnits="userSpaceOnUse" x1="224.3" y1="202.7" x2="249.6" y2="184.9"><stop stop-color="#ffe954"/><stop offset="1" stop-color="#ffc754"/></linearGradient><linearGradient id="g201" gradientUnits="userSpaceOnUse" x1="240.1" y1="190.8" x2="265.9" y2="174.2"><stop stop-color="#ffd355"/><stop offset="1" stop-color="#ffb355"/></linearGradient><linearGradient id="g202" gradientUnits="userSpaceOnUse" x1="255.6" y1="179.6" x2="282.1" y2="164.3"><stop stop-color="#ffbf56"/><stop offset="1" stop-color="#ffa256"/></linearGradient><linearGradient id="g203" gradientUnits="userSpaceOnUse" x1="270.8" y1="168.8" x2="298.2" y2="155.5"><stop stop-color="#ffad55"/><stop offset="1" stop-color="#ff9255"/></linearGradient><linearGradient id="g204" gradientUnits="userSpaceOnUse" x1="285.7" y1="158.3" x2="314.4" y2="148"><stop stop-color="#ff9c54"/><stop offset="1" stop-color="#ff8454"/></linearGradient><linearGradient id="g205" gradientUnits="userSpaceOnUse" x1="300.5" y1="147.7" x2="330.2" y2="142"><stop stop-color="#ff8c52"/><stop offset="1" stop-color="#ff7652"/></linearGradient><linearGradient id="g206" gradientUnits="userSpaceOnUse" x1="315.9" y1="136.9" x2="345.2" y2="137.7"><stop stop-color="#ff7e4f"/><stop offset="1" stop-color="#ff6a4f"/></linearGradient><linearGradient id="g207" gradientUnits="userSpaceOnUse" x1="333.1" y1="126.2" x2="358" y2="134.5"><stop stop-color="#ff714c"/><stop offset="1" stop-color="#ff5f4c"/></linearGradient><linearGradient id="g208" gradientUnits="userSpaceOnUse" x1="352.3" y1="117.9" x2="368.5" y2="130.5"><stop stop-color="#ff6548"/><stop offset="1" stop-color="#ff5648"/></linearGradient><linearGradient id="g209" gradientUnits="userSpaceOnUse" x1="371.2" y1="113.1" x2="379.1" y2="124.4"><stop stop-color="#ff5b44"/><stop offset="1" stop-color="#ff4e44"/></linearGradient><linearGradient id="g210" gradientUnits="userSpaceOnUse" x1="388.1" y1="110.2" x2="391.2" y2="117.9"><stop stop-color="#ff523f"/><stop offset="1" stop-color="#ff483f"/></linearGradient><linearGradient id="g211" gradientUnits="userSpaceOnUse" x1="403.4" y1="107.5" x2="404.6" y2="112.9"><stop stop-color="#ff4c3a"/><stop offset="1" stop-color="#ff433a"/></linearGradient><linearGradient id="g212" gradientUnits="userSpaceOnUse" x1="417.9" y1="104.3" x2="418.4" y2="109.4"><stop stop-color="#ff4a35"/><stop offset="1" stop-color="#ff3f35"/></linearGradient><linearGradient id="g213" gradientUnits="userSpaceOnUse" x1="432" y1="101.8" x2="432.1" y2="106.4"><stop stop-color="#ff4b30"/><stop offset="1" stop-color="#ff3e30"/></linearGradient><linearGradient id="g214" gradientUnits="userSpaceOnUse" x1="445.9" y1="100" x2="445.7" y2="104"><stop stop-color="#ff4f2b"/><stop offset="1" stop-color="#ff402b"/></linearGradient><linearGradient id="g215" gradientUnits="userSpaceOnUse" x1="459.5" y1="98.8" x2="459.2" y2="102.2"><stop stop-color="#ff5626"/><stop offset="1" stop-color="#ff4426"/></linearGradient><linearGradient id="g216" gradientUnits="userSpaceOnUse" x1="472.9" y1="98.2" x2="472.6" y2="101.1"><stop stop-color="#ff6121"/><stop offset="1" stop-color="#ff4d21"/></linearGradient><linearGradient id="g217" gradientUnits="userSpaceOnUse" x1="486.1" y1="98.3" x2="485.8" y2="100.6"><stop stop-color="#ff701d"/><stop offset="1" stop-color="#ff581d"/></linearGradient><linearGradient id="g218" gradientUnits="userSpaceOnUse" x1="499.1" y1="98.9" x2="498.8" y2="100.7"><stop stop-color="#ff8219"/><stop offset="1" stop-color="#ff6819"/></linearGradient><linearGradient id="g219" gradientUnits="userSpaceOnUse" x1="511.9" y1="100.1" x2="511.6" y2="101.4"><stop stop-color="#ff9815"/><stop offset="1" stop-color="#ff7b15"/></linearGradient><linearGradient id="g220" gradientUnits="userSpaceOnUse" x1="207.8" y1="199" x2="238" y2="187.7"><stop stop-color="#fff94e"/><stop offset="1" stop-color="#ffd14e"/></linearGradient><linearGradient id="g221" gradientUnits="userSpaceOnUse" x1="223.7" y1="186.5" x2="254.1" y2="177.4"><stop stop-color="#ffe150"/><stop offset="1" stop-color="#ffbd50"/></linearGradient><linearGradient id="g222" gradientUnits="userSpaceOnUse" x1="239.5" y1="174.6" x2="270" y2="168.1"><stop stop-color="#ffcc51"/><stop offset="1" stop-color="#ffaa51"/></linearGradient><linearGradient id="g223" gradientUnits="userSpaceOnUse" x1="255.3" y1="162.9" x2="285.5" y2="160"><stop stop-color="#ffb951"/><stop offset="1" stop-color="#ff9a51"/></linearGradient><linearGradient id="g224" gradientUnits="userSpaceOnUse" x1="271.4" y1="151.7" x2="300.4" y2="153"><stop stop-color="#ffa750"/><stop offset="1" stop-color="#ff8b50"/></linearGradient><linearGradient id="g225" gradientUnits="userSpaceOnUse" x1="288.1" y1="141" x2="314.3" y2="146.9"><stop stop-color="#ff974f"/><stop offset="1" stop-color="#ff7d4f"/></linearGradient><linearGradient id="g226" gradientUnits="userSpaceOnUse" x1="305.7" y1="131.3" x2="327.1" y2="141.2"><stop stop-color="#ff894c"/><stop offset="1" stop-color="#ff714c"/></linearGradient><linearGradient id="g227" gradientUnits="userSpaceOnUse" x1="323.7" y1="123.4" x2="339.1" y2="135.2"><stop stop-color="#ff7c4a"/><stop offset="1" stop-color="#ff664a"/></linearGradient><linearGradient id="g228" gradientUnits="userSpaceOnUse" x1="341.5" y1="117.5" x2="351" y2="128.7"><stop stop-color="#ff7046"/><stop offset="1" stop-color="#ff5d46"/></linearGradient><linearGradient id="g229" gradientUnits="userSpaceOnUse" x1="358.3" y1="113.1" x2="363.5" y2="122.1"><stop stop-color="#ff6642"/><stop offset="1" stop-color="#ff5542"/></linearGradient><linearGradient id="g230" gradientUnits="userSpaceOnUse" x1="374.1" y1="109.5" x2="376.7" y2="116"><stop stop-color="#ff5d3e"/><stop offset="1" stop-color="#ff4f3e"/></linearGradient><linearGradient id="g231" gradientUnits="userSpaceOnUse" x1="389.1" y1="106.5" x2="390.3" y2="111"><stop stop-color="#ff5739"/><stop offset="1" stop-color="#ff4b39"/></linearGradient><linearGradient id="g232" gradientUnits="userSpaceOnUse" x1="403.5" y1="103.1" x2="404.2" y2="107.3"><stop stop-color="#ff5535"/><stop offset="1" stop-color="#ff4735"/></linearGradient><linearGradient id="g233" gradientUnits="userSpaceOnUse" x1="417.6" y1="100.5" x2="417.9" y2="104.2"><stop stop-color="#ff5630"/><stop offset="1" stop-color="#ff4530"/></linearGradient><linearGradient id="g234" gradientUnits="userSpaceOnUse" x1="431.4" y1="98.5" x2="431.6" y2="101.8"><stop stop-color="#ff5a2b"/><stop offset="1" stop-color="#ff472b"/></linearGradient><linearGradient id="g235" gradientUnits="userSpaceOnUse" x1="445.1" y1="97.2" x2="445" y2="99.9"><stop stop-color="#ff6126"/><stop offset="1" stop-color="#ff4b26"/></linearGradient><linearGradient id="g236" gradientUnits="userSpaceOnUse" x1="458.5" y1="96.5" x2="458.4" y2="98.7"><stop stop-color="#ff6b22"/><stop offset="1" stop-color="#ff5322"/></linearGradient><linearGradient id="g237" gradientUnits="userSpaceOnUse" x1="471.7" y1="96.4" x2="471.6" y2="98.1"><stop stop-color="#ff791e"/><stop offset="1" stop-color="#ff5e1e"/></linearGradient><linearGradient id="g238" gradientUnits="userSpaceOnUse" x1="484.8" y1="96.9" x2="484.6" y2="98.1"><stop stop-color="#ff8b1a"/><stop offset="1" stop-color="#ff6d1a"/></linearGradient><linearGradient id="g239" gradientUnits="userSpaceOnUse" x1="497.6" y1="97.9" x2="497.5" y2="98.6"><stop stop-color="#ffa016"/><stop offset="1" stop-color="#ff8016"/></linearGradient><linearGradient id="g240" gradientUnits="userSpaceOnUse" x1="193.8" y1="195.4" x2="224.5" y2="192.3"><stop stop-color="#f1ff47"/><stop offset="1" stop-color="#ffe047"/></linearGradient><linearGradient id="g241" gradientUnits="userSpaceOnUse" x1="210.2" y1="182.6" x2="240" y2="182.1"><stop stop-color="#fff449"/><stop offset="1" stop-color="#ffca49"/></linearGradient><linearGradient id="g242" gradientUnits="userSpaceOnUse" x1="226.7" y1="170.5" x2="255" y2="172.9"><stop stop-color="#ffdd4a"/><stop offset="1" stop-color="#ffb64a"/></linearGradient><linearGradient id="g243" gradientUnits="userSpaceOnUse" x1="243.5" y1="159" x2="269.5" y2="164.4"><stop stop-color="#ffc94b"/><stop offset="1" stop-color="#ffa54b"/></linearGradient><linearGradient id="g244" gradientUnits="userSpaceOnUse" x1="260.6" y1="148.4" x2="283.4" y2="156.6"><stop stop-color="#ffb64b"/><stop offset="1" stop-color="#ff954b"/></linearGradient><linearGradient id="g245" gradientUnits="userSpaceOnUse" x1="277.9" y1="138.9" x2="296.6" y2="149.2"><stop stop-color="#ffa64a"/><stop offset="1" stop-color="#ff874a"/></linearGradient><linearGradient id="g246" gradientUnits="userSpaceOnUse" x1="295.3" y1="130.8" x2="309.5" y2="141.8"><stop stop-color="#ff9748"/><stop offset="1" stop-color="#ff7a48"/></linearGradient><linearGradient id="g247" gradientUnits="userSpaceOnUse" x1="312.5" y1="124" x2="322.3" y2="134.6"><stop stop-color="#ff8946"/><stop offset="1" stop-color="#ff7046"/></linearGradient><linearGradient id="g248" gradientUnits="userSpaceOnUse" x1="329.1" y1="118.4" x2="335.4" y2="127.5"><stop stop-color="#ff7e43"/><stop offset="1" stop-color="#ff6643"/></linearGradient><linearGradient id="g249" gradientUnits="userSpaceOnUse" x1="345" y1="113.7" x2="348.7" y2="121"><stop stop-color="#ff7340"/><stop offset="1" stop-color="#ff5f40"/></linearGradient><linearGradient id="g250" gradientUnits="userSpaceOnUse" x1="360.3" y1="109.7" x2="362.3" y2="115.1"><stop stop-color="#ff6b3c"/><stop offset="1" stop-color="#ff593c"/></linearGradient><linearGradient id="g251" gradientUnits="userSpaceOnUse" x1="375.1" y1="106.2" x2="376.1" y2="110"><stop stop-color="#ff6538"/><stop offset="1" stop-color="#ff5538"/></linearGradient><linearGradient id="g252" gradientUnits="userSpaceOnUse" x1="389.4" y1="102.9" x2="390" y2="106.2"><stop stop-color="#ff6333"/><stop offset="1" stop-color="#ff5133"/></linearGradient><linearGradient id="g253" gradientUnits="userSpaceOnUse" x1="403.4" y1="100.1" x2="403.8" y2="103.1"><stop stop-color="#ff642f"/><stop offset="1" stop-color="#ff502f"/></linearGradient><linearGradient id="g254" gradientUnits="userSpaceOnUse" x1="417.3" y1="98" x2="417.5" y2="100.5"><stop stop-color="#ff672a"/><stop offset="1" stop-color="#ff512a"/></linearGradient><linearGradient id="g255" gradientUnits="userSpaceOnUse" x1="430.9" y1="96.5" x2="431" y2="98.5"><stop stop-color="#ff6e26"/><stop offset="1" stop-color="#ff5526"/></linearGradient><linearGradient id="g256" gradientUnits="userSpaceOnUse" x1="444.3" y1="95.7" x2="444.4" y2="97.2"><stop stop-color="#ff7922"/><stop offset="1" stop-color="#ff5d22"/></linearGradient><linearGradient id="g257" gradientUnits="userSpaceOnUse" x1="457.6" y1="95.5" x2="457.6" y2="96.5"><stop stop-color="#ff861e"/><stop offset="1" stop-color="#ff681e"/></linearGradient><linearGradient id="g258" gradientUnits="userSpaceOnUse" x1="470.6" y1="95.8" x2="470.6" y2="96.3"><stop stop-color="#ff981a"/><stop offset="1" stop-color="#ff771a"/></linearGradient><linearGradient id="g259" gradientUnits="userSpaceOnUse" x1="483.5" y1="96.6" x2="483.5" y2="96.9"><stop stop-color="#ffad16"/><stop offset="1" stop-color="#ff8916"/></linearGradient><linearGradient id="g260" gradientUnits="userSpaceOnUse" x1="182" y1="193.5" x2="209.2" y2="197"><stop stop-color="#d7ff40"/><stop offset="1" stop-color="#fff340"/></linearGradient><linearGradient id="g261" gradientUnits="userSpaceOnUse" x1="198.9" y1="180.9" x2="224.1" y2="186.5"><stop stop-color="#f3ff42"/><stop offset="1" stop-color="#ffdb42"/></linearGradient><linearGradient id="g262" gradientUnits="userSpaceOnUse" x1="215.9" y1="169.2" x2="238.6" y2="176.7"><stop stop-color="#fff343"/><stop offset="1" stop-color="#ffc643"/></linearGradient><linearGradient id="g263" gradientUnits="userSpaceOnUse" x1="233" y1="158.4" x2="252.7" y2="167.5"><stop stop-color="#ffdd44"/><stop offset="1" stop-color="#ffb344"/></linearGradient><linearGradient id="g264" gradientUnits="userSpaceOnUse" x1="250.1" y1="148.6" x2="266.4" y2="158.7"><stop stop-color="#ffc944"/><stop offset="1" stop-color="#ffa344"/></linearGradient><linearGradient id="g265" gradientUnits="userSpaceOnUse" x1="267.1" y1="139.9" x2="279.9" y2="150.2"><stop stop-color="#ffb844"/><stop offset="1" stop-color="#ff9444"/></linearGradient><linearGradient id="g266" gradientUnits="userSpaceOnUse" x1="283.9" y1="132.4" x2="293.4" y2="142.1"><stop stop-color="#ffa842"/><stop offset="1" stop-color="#ff8742"/></linearGradient><linearGradient id="g267" gradientUnits="userSpaceOnUse" x1="300.2" y1="125.8" x2="306.9" y2="134.5"><stop stop-color="#ff9b41"/><stop offset="1" stop-color="#ff7c41"/></linearGradient><linearGradient id="g268" gradientUnits="userSpaceOnUse" x1="316.1" y1="120" x2="320.6" y2="127.3"><stop stop-color="#ff8f3e"/><stop offset="1" stop-color="#ff733e"/></linearGradient><linearGradient id="g269" gradientUnits="userSpaceOnUse" x1="331.6" y1="115.1" x2="334.4" y2="120.9"><stop stop-color="#ff853c"/><stop offset="1" stop-color="#ff6b3c"/></linearGradient><linearGradient id="g270" gradientUnits="userSpaceOnUse" x1="346.6" y1="110.7" x2="348.2" y2="115.1"><stop stop-color="#ff7c38"/><stop offset="1" stop-color="#ff6538"/></linearGradient><linearGradient id="g271" gradientUnits="userSpaceOnUse" x1="361.2" y1="106.9" x2="362.1" y2="110.1"><stop stop-color="#ff7635"/><stop offset="1" stop-color="#ff6235"/></linearGradient><linearGradient id="g272" gradientUnits="userSpaceOnUse" x1="375.5" y1="103.6" x2="376.1" y2="106.1"><stop stop-color="#ff7431"/><stop offset="1" stop-color="#ff5f31"/></linearGradient><linearGradient id="g273" gradientUnits="userSpaceOnUse" x1="389.5" y1="100.7" x2="389.9" y2="102.8"><stop stop-color="#ff752d"/><stop offset="1" stop-color="#ff5d2d"/></linearGradient><linearGradient id="g274" gradientUnits="userSpaceOnUse" x1="403.3" y1="98.4" x2="403.6" y2="100.1"><stop stop-color="#ff7929"/><stop offset="1" stop-color="#ff5f29"/></linearGradient><linearGradient id="g275" gradientUnits="userSpaceOnUse" x1="417" y1="96.8" x2="417.1" y2="98"><stop stop-color="#ff8025"/><stop offset="1" stop-color="#ff6325"/></linearGradient><linearGradient id="g276" gradientUnits="userSpaceOnUse" x1="430.4" y1="95.8" x2="430.4" y2="96.6"><stop stop-color="#ff8a21"/><stop offset="1" stop-color="#ff6b21"/></linearGradient><linearGradient id="g277" gradientUnits="userSpaceOnUse" x1="443.6" y1="95.4" x2="443.6" y2="95.7"><stop stop-color="#ff971d"/><stop offset="1" stop-color="#ff761d"/></linearGradient><linearGradient id="g278" gradientUnits="userSpaceOnUse" x1="456.7" y1="95.6" x2="456.7" y2="95.4"><stop stop-color="#ffa819"/><stop offset="1" stop-color="#ff8419"/></linearGradient><linearGradient id="g279" gradientUnits="userSpaceOnUse" x1="469.6" y1="96.4" x2="469.6" y2="95.7"><stop stop-color="#ffbd16"/><stop offset="1" stop-color="#ff9616"/></linearGradient><linearGradient id="g280" gradientUnits="userSpaceOnUse" x1="171.4" y1="194" x2="193.2" y2="201.2"><stop stop-color="#b8ff38"/><stop offset="1" stop-color="#f2ff38"/></linearGradient><linearGradient id="g281" gradientUnits="userSpaceOnUse" x1="188.4" y1="181.9" x2="207.9" y2="190.2"><stop stop-color="#d5ff3a"/><stop offset="1" stop-color="#fff23a"/></linearGradient><linearGradient id="g282" gradientUnits="userSpaceOnUse" x1="205.3" y1="170.6" x2="222.3" y2="179.7"><stop stop-color="#f0ff3b"/><stop offset="1" stop-color="#ffdb3b"/></linearGradient><linearGradient id="g283" gradientUnits="userSpaceOnUse" x1="222.3" y1="160.3" x2="236.5" y2="169.8"><stop stop-color="#fff73c"/><stop offset="1" stop-color="#ffc73c"/></linearGradient><linearGradient id="g284" gradientUnits="userSpaceOnUse" x1="239" y1="151" x2="250.5" y2="160.4"><stop stop-color="#ffe23d"/><stop offset="1" stop-color="#ffb53d"/></linearGradient><linearGradient id="g285" gradientUnits="userSpaceOnUse" x1="255.6" y1="142.6" x2="264.4" y2="151.5"><stop stop-color="#ffcf3d"/><stop offset="1" stop-color="#ffa63d"/></linearGradient><linearGradient id="g286" gradientUnits="userSpaceOnUse" x1="271.8" y1="135.1" x2="278.3" y2="143.1"><stop stop-color="#ffbf3c"/><stop offset="1" stop-color="#ff983c"/></linearGradient><linearGradient id="g287" gradientUnits="userSpaceOnUse" x1="287.6" y1="128.4" x2="292.3" y2="135.3"><stop stop-color="#ffb13b"/><stop offset="1" stop-color="#ff8d3b"/></linearGradient><linearGradient id="g288" gradientUnits="userSpaceOnUse" x1="303.1" y1="122.5" x2="306.3" y2="128.2"><stop stop-color="#ffa439"/><stop offset="1" stop-color="#ff8339"/></linearGradient><linearGradient id="g289" gradientUnits="userSpaceOnUse" x1="318.3" y1="117.3" x2="320.3" y2="121.7"><stop stop-color="#ff9a37"/><stop offset="1" stop-color="#ff7b37"/></linearGradient><linearGradient id="g290" gradientUnits="userSpaceOnUse" x1="333.1" y1="112.6" x2="334.4" y2="116"><stop stop-color="#ff9234"/><stop offset="1" stop-color="#ff7634"/></linearGradient><linearGradient id="g291" gradientUnits="userSpaceOnUse" x1="347.6" y1="108.6" x2="348.3" y2="111"><stop stop-color="#ff8b31"/><stop offset="1" stop-color="#ff7231"/></linearGradient><linearGradient id="g292" gradientUnits="userSpaceOnUse" x1="361.8" y1="105.1" x2="362.3" y2="106.8"><stop stop-color="#ff882e"/><stop offset="1" stop-color="#ff702e"/></linearGradient><linearGradient id="g293" gradientUnits="userSpaceOnUse" x1="375.8" y1="102.1" x2="376.1" y2="103.4"><stop stop-color="#ff8a2a"/><stop offset="1" stop-color="#ff6f2a"/></linearGradient><linearGradient id="g294" gradientUnits="userSpaceOnUse" x1="389.6" y1="99.7" x2="389.8" y2="100.6"><stop stop-color="#ff8e27"/><stop offset="1" stop-color="#ff7027"/></linearGradient><linearGradient id="g295" gradientUnits="userSpaceOnUse" x1="403.2" y1="97.9" x2="403.3" y2="98.4"><stop stop-color="#ff9523"/><stop offset="1" stop-color="#ff7523"/></linearGradient><linearGradient id="g296" gradientUnits="userSpaceOnUse" x1="416.7" y1="96.6" x2="416.7" y2="97"><stop stop-color="#ff9f1f"/><stop offset="1" stop-color="#ff7c1f"/></linearGradient><linearGradient id="g297" gradientUnits="userSpaceOnUse" x1="429.9" y1="96.3" x2="429.9" y2="95.8"><stop stop-color="#ffad1c"/><stop offset="1" stop-color="#ff871c"/></linearGradient><linearGradient id="g298" gradientUnits="userSpaceOnUse" x1="443" y1="96.3" x2="442.9" y2="95.4"><stop stop-color="#ffbe19"/><stop offset="1" stop-color="#ff9519"/></linearGradient><linearGradient id="g299" gradientUnits="userSpaceOnUse" x1="455.8" y1="96.9" x2="455.8" y2="95.6"><stop stop-color="#ffd215"/><stop offset="1" stop-color="#ffa715"/></linearGradient><linearGradient id="g300" gradientUnits="userSpaceOnUse" x1="160.9" y1="196.7" x2="177.6" y2="205.1"><stop stop-color="#92ff30"/><stop offset="1" stop-color="#d3ff30"/></linearGradient><linearGradient id="g301" gradientUnits="userSpaceOnUse" x1="177.7" y1="184.9" x2="192.3" y2="193.6"><stop stop-color="#b2ff32"/><stop offset="1" stop-color="#efff32"/></linearGradient><linearGradient id="g302" gradientUnits="userSpaceOnUse" x1="194.5" y1="173.9" x2="206.8" y2="182.7"><stop stop-color="#ceff33"/><stop offset="1" stop-color="#fff633"/></linearGradient><linearGradient id="g303" gradientUnits="userSpaceOnUse" x1="211.1" y1="163.8" x2="221.2" y2="172.4"><stop stop-color="#e7ff35"/><stop offset="1" stop-color="#ffe135"/></linearGradient><linearGradient id="g304" gradientUnits="userSpaceOnUse" x1="227.5" y1="154.6" x2="235.5" y2="162.6"><stop stop-color="#feff35"/><stop offset="1" stop-color="#ffcd35"/></linearGradient><linearGradient id="g305" gradientUnits="userSpaceOnUse" x1="243.6" y1="146.3" x2="249.8" y2="153.5"><stop stop-color="#ffec35"/><stop offset="1" stop-color="#ffbd35"/></linearGradient><linearGradient id="g306" gradientUnits="userSpaceOnUse" x1="259.4" y1="138.7" x2="264" y2="145"><stop stop-color="#ffdb35"/><stop offset="1" stop-color="#ffae35"/></linearGradient><linearGradient id="g307" gradientUnits="userSpaceOnUse" x1="275" y1="131.9" x2="278.2" y2="137.1"><stop stop-color="#ffcc34"/><stop offset="1" stop-color="#ffa234"/></linearGradient><linearGradient id="g308" gradientUnits="userSpaceOnUse" x1="290.2" y1="125.8" x2="292.4" y2="130"><stop stop-color="#ffbf33"/><stop offset="1" stop-color="#ff9833"/></linearGradient><linearGradient id="g309" gradientUnits="userSpaceOnUse" x1="305.1" y1="120.3" x2="306.6" y2="123.5"><stop stop-color="#ffb431"/><stop offset="1" stop-color="#ff9031"/></linearGradient><linearGradient id="g310" gradientUnits="userSpaceOnUse" x1="319.8" y1="115.4" x2="320.7" y2="117.8"><stop stop-color="#ffab2f"/><stop offset="1" stop-color="#ff8a2f"/></linearGradient><linearGradient id="g311" gradientUnits="userSpaceOnUse" x1="334.2" y1="111.2" x2="334.7" y2="112.8"><stop stop-color="#ffa52d"/><stop offset="1" stop-color="#ff872d"/></linearGradient><linearGradient id="g312" gradientUnits="userSpaceOnUse" x1="348.4" y1="107.5" x2="348.7" y2="108.5"><stop stop-color="#ffa22a"/><stop offset="1" stop-color="#ff852a"/></linearGradient><linearGradient id="g313" gradientUnits="userSpaceOnUse" x1="362.3" y1="104.3" x2="362.5" y2="104.9"><stop stop-color="#ffa327"/><stop offset="1" stop-color="#ff8427"/></linearGradient><linearGradient id="g314" gradientUnits="userSpaceOnUse" x1="376.1" y1="101.8" x2="376.2" y2="102"><stop stop-color="#ffa724"/><stop offset="1" stop-color="#ff8624"/></linearGradient><linearGradient id="g315" gradientUnits="userSpaceOnUse" x1="389.7" y1="99.9" x2="389.7" y2="99.6"><stop stop-color="#ffaf21"/><stop offset="1" stop-color="#ff8b21"/></linearGradient><linearGradient id="g316" gradientUnits="userSpaceOnUse" x1="403.1" y1="98.6" x2="403.1" y2="97.9"><stop stop-color="#ffb91d"/><stop offset="1" stop-color="#ff921d"/></linearGradient><linearGradient id="g317" gradientUnits="userSpaceOnUse" x1="416.4" y1="97.9" x2="416.3" y2="96.8"><stop stop-color="#ffc61a"/><stop offset="1" stop-color="#ff9d1a"/></linearGradient><linearGradient id="g318" gradientUnits="userSpaceOnUse" x1="429.4" y1="97.8" x2="429.3" y2="96.3"><stop stop-color="#ffd717"/><stop offset="1" stop-color="#ffab17"/></linearGradient><linearGradient id="g319" gradientUnits="userSpaceOnUse" x1="442.3" y1="98.3" x2="442.2" y2="96.3"><stop stop-color="#ffeb14"/><stop offset="1" stop-color="#ffbc14"/></linearGradient><linearGradient id="g320" gradientUnits="userSpaceOnUse" x1="150.2" y1="201" x2="162.6" y2="209.1"><stop stop-color="#66ff28"/><stop offset="1" stop-color="#aeff28"/></linearGradient><linearGradient id="g321" gradientUnits="userSpaceOnUse" x1="166.8" y1="189.3" x2="177.4" y2="197.3"><stop stop-color="#87ff2a"/><stop offset="1" stop-color="#ccff2a"/></linearGradient><linearGradient id="g322" gradientUnits="userSpaceOnUse" x1="183.3" y1="178.5" x2="192.1" y2="186.1"><stop stop-color="#a6ff2c"/><stop offset="1" stop-color="#e6ff2c"/></linearGradient><linearGradient id="g323" gradientUnits="userSpaceOnUse" x1="199.6" y1="168.5" x2="206.7" y2="175.5"><stop stop-color="#c1ff2d"/><stop offset="1" stop-color="#feff2d"/></linearGradient><linearGradient id="g324" gradientUnits="userSpaceOnUse" x1="215.6" y1="159.3" x2="221.2" y2="165.6"><stop stop-color="#d9ff2e"/><stop offset="1" stop-color="#ffeb2e"/></linearGradient><linearGradient id="g325" gradientUnits="userSpaceOnUse" x1="231.4" y1="150.8" x2="235.7" y2="156.4"><stop stop-color="#efff2e"/><stop offset="1" stop-color="#ffd92e"/></linearGradient><linearGradient id="g326" gradientUnits="userSpaceOnUse" x1="247" y1="143.1" x2="250.1" y2="147.8"><stop stop-color="#fffd2e"/><stop offset="1" stop-color="#ffca2e"/></linearGradient><linearGradient id="g327" gradientUnits="userSpaceOnUse" x1="262.3" y1="136.1" x2="264.5" y2="139.9"><stop stop-color="#ffec2e"/><stop offset="1" stop-color="#ffbd2e"/></linearGradient><linearGradient id="g328" gradientUnits="userSpaceOnUse" x1="277.3" y1="129.8" x2="278.8" y2="132.7"><stop stop-color="#ffdf2d"/><stop offset="1" stop-color="#ffb22d"/></linearGradient><linearGradient id="g329" gradientUnits="userSpaceOnUse" x1="292.1" y1="124.1" x2="293" y2="126.2"><stop stop-color="#ffd32b"/><stop offset="1" stop-color="#ffaa2b"/></linearGradient><linearGradient id="g330" gradientUnits="userSpaceOnUse" x1="306.7" y1="119" x2="307.2" y2="120.4"><stop stop-color="#ffcb2a"/><stop offset="1" stop-color="#ffa42a"/></linearGradient><linearGradient id="g331" gradientUnits="userSpaceOnUse" x1="321" y1="114.6" x2="321.3" y2="115.4"><stop stop-color="#ffc428"/><stop offset="1" stop-color="#ffa128"/></linearGradient><linearGradient id="g332" gradientUnits="userSpaceOnUse" x1="335.1" y1="110.7" x2="335.2" y2="111"><stop stop-color="#ffc025"/><stop offset="1" stop-color="#ffa025"/></linearGradient><linearGradient id="g333" gradientUnits="userSpaceOnUse" x1="349.1" y1="107.5" x2="349" y2="107.3"><stop stop-color="#ffc123"/><stop offset="1" stop-color="#ff9f23"/></linearGradient><linearGradient id="g334" gradientUnits="userSpaceOnUse" x1="362.8" y1="104.8" x2="362.7" y2="104.2"><stop stop-color="#ffc620"/><stop offset="1" stop-color="#ffa020"/></linearGradient><linearGradient id="g335" gradientUnits="userSpaceOnUse" x1="376.4" y1="102.7" x2="376.2" y2="101.8"><stop stop-color="#ffcd1e"/><stop offset="1" stop-color="#ffa51e"/></linearGradient><linearGradient id="g336" gradientUnits="userSpaceOnUse" x1="389.8" y1="101.3" x2="389.6" y2="99.9"><stop stop-color="#ffd71b"/><stop offset="1" stop-color="#ffac1b"/></linearGradient><linearGradient id="g337" gradientUnits="userSpaceOnUse" x1="403" y1="100.5" x2="402.8" y2="98.6"><stop stop-color="#ffe518"/><stop offset="1" stop-color="#ffb718"/></linearGradient><linearGradient id="g338" gradientUnits="userSpaceOnUse" x1="416.1" y1="100.2" x2="415.9" y2="98"><stop stop-color="#fff515"/><stop offset="1" stop-color="#ffc515"/></linearGradient><linearGradient id="g339" gradientUnits="userSpaceOnUse" x1="428.9" y1="100.5" x2="428.8" y2="97.9"><stop stop-color="#f4ff13"/><stop offset="1" stop-color="#ffd613"/></linearGradient><linearGradient id="g340" gradientUnits="userSpaceOnUse" x1="139.3" y1="206.6" x2="148.3" y2="213.6"><stop stop-color="#32ff21"/><stop offset="1" stop-color="#82ff21"/></linearGradient><linearGradient id="g341" gradientUnits="userSpaceOnUse" x1="155.7" y1="194.9" x2="163.2" y2="201.6"><stop stop-color="#56ff23"/><stop offset="1" stop-color="#a2ff23"/></linearGradient><linearGradient id="g342" gradientUnits="userSpaceOnUse" x1="171.9" y1="184.1" x2="178.1" y2="190.2"><stop stop-color="#77ff24"/><stop offset="1" stop-color="#beff24"/></linearGradient><linearGradient id="g343" gradientUnits="userSpaceOnUse" x1="187.9" y1="174" x2="192.8" y2="179.5"><stop stop-color="#94ff25"/><stop offset="1" stop-color="#d8ff25"/></linearGradient><linearGradient id="g344" gradientUnits="userSpaceOnUse" x1="203.7" y1="164.7" x2="207.5" y2="169.5"><stop stop-color="#aeff26"/><stop offset="1" stop-color="#eeff26"/></linearGradient><linearGradient id="g345" gradientUnits="userSpaceOnUse" x1="219.3" y1="156.2" x2="222.1" y2="160.1"><stop stop-color="#c5ff27"/><stop offset="1" stop-color="#fffc27"/></linearGradient><linearGradient id="g346" gradientUnits="userSpaceOnUse" x1="234.6" y1="148.3" x2="236.6" y2="151.5"><stop stop-color="#d9ff27"/><stop offset="1" stop-color="#ffec27"/></linearGradient><linearGradient id="g347" gradientUnits="userSpaceOnUse" x1="249.7" y1="141.1" x2="251.1" y2="143.6"><stop stop-color="#eaff27"/><stop offset="1" stop-color="#ffde27"/></linearGradient><linearGradient id="g348" gradientUnits="userSpaceOnUse" x1="264.6" y1="134.6" x2="265.5" y2="136.3"><stop stop-color="#f9ff26"/><stop offset="1" stop-color="#ffd226"/></linearGradient><linearGradient id="g349" gradientUnits="userSpaceOnUse" x1="279.3" y1="128.7" x2="279.7" y2="129.8"><stop stop-color="#fff925"/><stop offset="1" stop-color="#ffca25"/></linearGradient><linearGradient id="g350" gradientUnits="userSpaceOnUse" x1="293.8" y1="123.5" x2="293.9" y2="124"><stop stop-color="#fff024"/><stop offset="1" stop-color="#ffc324"/></linearGradient><linearGradient id="g351" gradientUnits="userSpaceOnUse" x1="308.1" y1="119" x2="308" y2="118.6"><stop stop-color="#ffe923"/><stop offset="1" stop-color="#ffc023"/></linearGradient><linearGradient id="g352" gradientUnits="userSpaceOnUse" x1="322.1" y1="114.8" x2="322" y2="114.3"><stop stop-color="#ffe521"/><stop offset="1" stop-color="#ffbf21"/></linearGradient><linearGradient id="g353" gradientUnits="userSpaceOnUse" x1="336" y1="111.3" x2="335.8" y2="110.5"><stop stop-color="#ffe51f"/><stop offset="1" stop-color="#ffbe1f"/></linearGradient><linearGradient id="g354" gradientUnits="userSpaceOnUse" x1="349.7" y1="108.5" x2="349.5" y2="107.3"><stop stop-color="#ffe91d"/><stop offset="1" stop-color="#ffc01d"/></linearGradient><linearGradient id="g355" gradientUnits="userSpaceOnUse" x1="363.3" y1="106.3" x2="363" y2="104.7"><stop stop-color="#fff01a"/><stop offset="1" stop-color="#ffc41a"/></linearGradient><linearGradient id="g356" gradientUnits="userSpaceOnUse" x1="376.6" y1="104.8" x2="376.3" y2="102.7"><stop stop-color="#fffb18"/><stop offset="1" stop-color="#ffcc18"/></linearGradient><linearGradient id="g357" gradientUnits="userSpaceOnUse" x1="389.9" y1="103.8" x2="389.6" y2="101.3"><stop stop-color="#f6ff16"/><stop offset="1" stop-color="#ffd616"/></linearGradient><linearGradient id="g358" gradientUnits="userSpaceOnUse" x1="402.9" y1="103.4" x2="402.6" y2="100.5"><stop stop-color="#e5ff13"/><stop offset="1" stop-color="#ffe413"/></linearGradient><linearGradient id="g359" gradientUnits="userSpaceOnUse" x1="415.8" y1="103.5" x2="415.5" y2="100.2"><stop stop-color="#d2ff11"/><stop offset="1" stop-color="#fff511"/></linearGradient><linearGradient id="g360" gradientUnits="userSpaceOnUse" x1="128.3" y1="213.1" x2="134.6" y2="218.7"><stop stop-color="#1cff1a"/><stop offset="1" stop-color="#50ff1a"/></linearGradient><linearGradient id="g361" gradientUnits="userSpaceOnUse" x1="144.4" y1="201.4" x2="149.6" y2="206.6"><stop stop-color="#1fff1c"/><stop offset="1" stop-color="#71ff1c"/></linearGradient><linearGradient id="g362" gradientUnits="userSpaceOnUse" x1="160.4" y1="190.6" x2="164.5" y2="195.1"><stop stop-color="#41ff1d"/><stop offset="1" stop-color="#90ff1d"/></linearGradient><linearGradient id="g363" gradientUnits="userSpaceOnUse" x1="176.2" y1="180.4" x2="179.4" y2="184.3"><stop stop-color="#60ff1f"/><stop offset="1" stop-color="#abff1f"/></linearGradient><linearGradient id="g364" gradientUnits="userSpaceOnUse" x1="191.8" y1="171" x2="194.2" y2="174.2"><stop stop-color="#7cff1f"/><stop offset="1" stop-color="#c3ff1f"/></linearGradient><linearGradient id="g365" gradientUnits="userSpaceOnUse" x1="207.2" y1="162.3" x2="208.8" y2="164.8"><stop stop-color="#94ff20"/><stop offset="1" stop-color="#d8ff20"/></linearGradient><linearGradient id="g366" gradientUnits="userSpaceOnUse" x1="222.4" y1="154.3" x2="223.4" y2="156.1"><stop stop-color="#aaff20"/><stop offset="1" stop-color="#eaff20"/></linearGradient><linearGradient id="g367" gradientUnits="userSpaceOnUse" x1="237.3" y1="146.9" x2="238" y2="148.1"><stop stop-color="#bcff20"/><stop offset="1" stop-color="#f9ff20"/></linearGradient><linearGradient id="g368" gradientUnits="userSpaceOnUse" x1="252.1" y1="140.2" x2="252.4" y2="140.8"><stop stop-color="#ccff20"/><stop offset="1" stop-color="#fff920"/></linearGradient><linearGradient id="g369" gradientUnits="userSpaceOnUse" x1="265.2" y1="131.9" x2="268.2" y2="136.5"><stop stop-color="#d9ff20"/><stop offset="1" stop-color="#ffef20"/></linearGradient><linearGradient id="g370" gradientUnits="userSpaceOnUse" x1="281.1" y1="128.7" x2="280.9" y2="128.3"><stop stop-color="#e3ff1f"/><stop offset="1" stop-color="#ffe91f"/></linearGradient><linearGradient id="g371" gradientUnits="userSpaceOnUse" x1="295.3" y1="123.9" x2="295" y2="123"><stop stop-color="#eaff1e"/><stop offset="1" stop-color="#ffe41e"/></linearGradient><linearGradient id="g372" gradientUnits="userSpaceOnUse" x1="309.3" y1="119.7" x2="308.9" y2="118.5"><stop stop-color="#efff1c"/><stop offset="1" stop-color="#ffe31c"/></linearGradient><linearGradient id="g373" gradientUnits="userSpaceOnUse" x1="323.1" y1="116" x2="322.7" y2="114.6"><stop stop-color="#f0ff1b"/><stop offset="1" stop-color="#ffe31b"/></linearGradient><linearGradient id="g374" gradientUnits="userSpaceOnUse" x1="336.8" y1="113.1" x2="336.4" y2="111.2"><stop stop-color="#ecff19"/><stop offset="1" stop-color="#ffe419"/></linearGradient><linearGradient id="g375" gradientUnits="userSpaceOnUse" x1="350.3" y1="110.8" x2="349.9" y2="108.5"><stop stop-color="#e5ff17"/><stop offset="1" stop-color="#ffe917"/></linearGradient><linearGradient id="g376" gradientUnits="userSpaceOnUse" x1="363.7" y1="109" x2="363.2" y2="106.3"><stop stop-color="#dbff15"/><stop offset="1" stop-color="#fff015"/></linearGradient><linearGradient id="g377" gradientUnits="userSpaceOnUse" x1="376.9" y1="107.9" x2="376.4" y2="104.8"><stop stop-color="#ceff13"/><stop offset="1" stop-color="#fffb13"/></linearGradient><linearGradient id="g378" gradientUnits="userSpaceOnUse" x1="389.9" y1="107.3" x2="389.5" y2="103.8"><stop stop-color="#bdff11"/><stop offset="1" stop-color="#f6ff11"/></linearGradient><linearGradient id="g379" gradientUnits="userSpaceOnUse" x1="402.8" y1="107.3" x2="402.4" y2="103.4"><stop stop-color="#a9ff0f"/><stop offset="1" stop-color="#e5ff0f"/></linearGradient><linearGradient id="g380" gradientUnits="userSpaceOnUse" x1="117.2" y1="220.5" x2="121.4" y2="224.7"><stop stop-color="#16ff15"/><stop offset="1" stop-color="#17ff15"/></linearGradient><linearGradient id="g381" gradientUnits="userSpaceOnUse" x1="133.2" y1="208.8" x2="136.5" y2="212.4"><stop stop-color="#17ff16"/><stop offset="1" stop-color="#3bff16"/></linearGradient><linearGradient id="g382" gradientUnits="userSpaceOnUse" x1="149" y1="197.8" x2="151.5" y2="200.8"><stop stop-color="#19ff17"/><stop offset="1" stop-color="#5bff17"/></linearGradient><linearGradient id="g383" gradientUnits="userSpaceOnUse" x1="164.6" y1="187.5" x2="166.4" y2="190"><stop stop-color="#25ff18"/><stop offset="1" stop-color="#77ff18"/></linearGradient><linearGradient id="g384" gradientUnits="userSpaceOnUse" x1="180" y1="178" x2="181.2" y2="179.8"><stop stop-color="#43ff19"/><stop offset="1" stop-color="#91ff19"/></linearGradient><linearGradient id="g385" gradientUnits="userSpaceOnUse" x1="195.2" y1="169.2" x2="195.9" y2="170.3"><stop stop-color="#5dff1a"/><stop offset="1" stop-color="#a7ff1a"/></linearGradient><linearGradient id="g386" gradientUnits="userSpaceOnUse" x1="210.2" y1="161" x2="210.6" y2="161.6"><stop stop-color="#74ff1a"/><stop offset="1" stop-color="#baff1a"/></linearGradient><linearGradient id="g387" gradientUnits="userSpaceOnUse" x1="225.3" y1="154" x2="224.9" y2="153"><stop stop-color="#88ff1b"/><stop offset="1" stop-color="#cbff1b"/></linearGradient><linearGradient id="g388" gradientUnits="userSpaceOnUse" x1="239.8" y1="146.6" x2="239.5" y2="146.1"><stop stop-color="#98ff1a"/><stop offset="1" stop-color="#d8ff1a"/></linearGradient><linearGradient id="g389" gradientUnits="userSpaceOnUse" x1="254.3" y1="140.4" x2="253.8" y2="139.4"><stop stop-color="#a6ff1a"/><stop offset="1" stop-color="#e2ff1a"/></linearGradient><linearGradient id="g390" gradientUnits="userSpaceOnUse" x1="268.6" y1="134.8" x2="268.1" y2="133.4"><stop stop-color="#b1ff1a"/><stop offset="1" stop-color="#eaff1a"/></linearGradient><linearGradient id="g391" gradientUnits="userSpaceOnUse" x1="282.7" y1="129.8" x2="282.1" y2="128.1"><stop stop-color="#b9ff19"/><stop offset="1" stop-color="#efff19"/></linearGradient><linearGradient id="g392" gradientUnits="userSpaceOnUse" x1="296.6" y1="125.3" x2="296.1" y2="123.5"><stop stop-color="#beff18"/><stop offset="1" stop-color="#f0ff18"/></linearGradient><linearGradient id="g393" gradientUnits="userSpaceOnUse" x1="310.4" y1="121.5" x2="309.9" y2="119.4"><stop stop-color="#c0ff16"/><stop offset="1" stop-color="#f0ff16"/></linearGradient><linearGradient id="g394" gradientUnits="userSpaceOnUse" x1="324.1" y1="118.5" x2="323.5" y2="115.9"><stop stop-color="#bdff15"/><stop offset="1" stop-color="#efff15"/></linearGradient><linearGradient id="g395" gradientUnits="userSpaceOnUse" x1="337.6" y1="116" x2="337" y2="113.1"><stop stop-color="#b6ff14"/><stop offset="1" stop-color="#ebff14"/></linearGradient><linearGradient id="g396" gradientUnits="userSpaceOnUse" x1="350.9" y1="114.1" x2="350.3" y2="110.8"><stop stop-color="#acff12"/><stop offset="1" stop-color="#e4ff12"/></linearGradient><linearGradient id="g397" gradientUnits="userSpaceOnUse" x1="364.1" y1="112.8" x2="363.5" y2="109.1"><stop stop-color="#a0ff11"/><stop offset="1" stop-color="#daff11"/></linearGradient><linearGradient id="g398" gradientUnits="userSpaceOnUse" x1="377.1" y1="112" x2="376.6" y2="107.9"><stop stop-color="#90ff0f"/><stop offset="1" stop-color="#cdff0f"/></linearGradient><linearGradient id="g399" gradientUnits="userSpaceOnUse" x1="390" y1="111.9" x2="389.4" y2="107.4"><stop stop-color="#7cff0d"/><stop offset="1" stop-color="#bcff0d"/></linearGradient></defs>
<g stroke="#000" stroke-width="1.05" stroke-linejoin="round">
<polygon points="389.7,107.3 376.9,112 389.7,111.9 402.5,107.3" fill="url(#g399)" stroke-width="1.05"/>
<polygon points="376.7,107.9 364,112.8 376.9,112 389.7,107.3" fill="url(#g398)" stroke-width="1.04"/>
<polygon points="402.7,103.4 389.7,107.3 402.5,107.3 415.5,103.5" fill="url(#g379)" stroke-width="1.06"/>
<polygon points="363.6,109 350.9,114.1 364,112.8 376.7,107.9" fill="url(#g397)" stroke-width="1.04"/>
<polygon points="389.7,103.8 376.7,107.9 389.7,107.3 402.7,103.4" fill="url(#g378)" stroke-width="1.06"/>
<polygon points="415.8,100.2 402.7,103.4 415.5,103.5 428.6,100.5" fill="url(#g359)" stroke-width="1.07"/>
<polygon points="350.4,110.7 337.6,115.9 350.9,114.1 363.6,109" fill="url(#g396)" stroke-width="1.04"/>
<polygon points="376.6,104.7 363.6,109 376.7,107.9 389.7,103.8" fill="url(#g377)" stroke-width="1.05"/>
<polygon points="402.8,100.4 389.7,103.8 402.7,103.4 415.8,100.2" fill="url(#g358)" stroke-width="1.06"/>
<polygon points="429.1,97.8 415.8,100.2 428.6,100.5 441.9,98.3" fill="url(#g339)" stroke-width="1.07"/>
<polygon points="336.9,113 324.2,118.4 337.6,115.9 350.4,110.7" fill="url(#g395)" stroke-width="1.03"/>
<polygon points="363.3,106.3 350.4,110.7 363.6,109 376.6,104.7" fill="url(#g376)" stroke-width="1.05"/>
<polygon points="389.7,101.3 376.6,104.7 389.7,103.8 402.8,100.4" fill="url(#g357)" stroke-width="1.06"/>
<polygon points="416.1,97.9 402.8,100.4 415.8,100.2 429.1,97.8" fill="url(#g338)" stroke-width="1.07"/>
<polygon points="442.6,96.3 429.1,97.8 441.9,98.3 455.4,96.9" fill="url(#g319)" stroke-width="1.08"/>
<polygon points="323.4,116 310.7,121.4 324.2,118.4 336.9,113" fill="url(#g394)" stroke-width="1.02"/>
<polygon points="349.8,108.5 336.9,113 350.4,110.7 363.3,106.3" fill="url(#g375)" stroke-width="1.04"/>
<polygon points="376.4,102.7 363.3,106.3 376.6,104.7 389.7,101.3" fill="url(#g356)" stroke-width="1.06"/>
<polygon points="403,98.6 389.7,101.3 402.8,100.4 416.1,97.9" fill="url(#g337)" stroke-width="1.07"/>
<polygon points="429.6,96.2 416.1,97.9 429.1,97.8 442.6,96.3" fill="url(#g318)" stroke-width="1.08"/>
<polygon points="456.3,95.6 442.6,96.3 455.4,96.9 469,96.3" fill="url(#g299)" stroke-width="1.08"/>
<polygon points="309.6,119.5 297,125.1 310.7,121.4 323.4,116" fill="url(#g393)" stroke-width="1.02"/>
<polygon points="336.2,111.2 323.4,116 336.9,113 349.8,108.5" fill="url(#g374)" stroke-width="1.04"/>
<polygon points="362.9,104.7 349.8,108.5 363.3,106.3 376.4,102.7" fill="url(#g355)" stroke-width="1.05"/>
<polygon points="389.7,99.9 376.4,102.7 389.7,101.3 403,98.6" fill="url(#g336)" stroke-width="1.07"/>
<polygon points="416.5,96.8 403,98.6 416.1,97.9 429.6,96.2" fill="url(#g317)" stroke-width="1.07"/>
<polygon points="470.1,95.7 456.3,95.6 469,96.3 482.9,96.6" fill="url(#g279)" stroke-width="1.08"/>
<polygon points="443.3,95.4 429.6,96.2 442.6,96.3 456.3,95.6" fill="url(#g298)" stroke-width="1.08"/>
<polygon points="295.7,123.6 283.1,129.4 297,125.1 309.6,119.5" fill="url(#g392)" stroke-width="1.01"/>
<polygon points="322.5,114.6 309.6,119.5 323.4,116 336.2,111.2" fill="url(#g373)" stroke-width="1.03"/>
<polygon points="349.3,107.3 336.2,111.2 349.8,108.5 362.9,104.7" fill="url(#g354)" stroke-width="1.05"/>
<polygon points="376.2,101.7 362.9,104.7 376.4,102.7 389.7,99.9" fill="url(#g335)" stroke-width="1.06"/>
<polygon points="403.2,97.9 389.7,99.9 403,98.6 416.5,96.8" fill="url(#g316)" stroke-width="1.07"/>
<polygon points="484.1,96.8 470.1,95.7 482.9,96.6 496.8,97.8" fill="url(#g259)" stroke-width="1.08"/>
<polygon points="430.2,95.8 416.5,96.8 429.6,96.2 443.3,95.4" fill="url(#g297)" stroke-width="1.08"/>
<polygon points="457.1,95.4 443.3,95.4 456.3,95.6 470.1,95.7" fill="url(#g278)" stroke-width="1.08"/>
<polygon points="281.7,128.4 269.1,134.3 283.1,129.4 295.7,123.6" fill="url(#g391)" stroke-width="1.00"/>
<polygon points="308.6,118.6 295.7,123.6 309.6,119.5 322.5,114.6" fill="url(#g372)" stroke-width="1.02"/>
<polygon points="335.5,110.6 322.5,114.6 336.2,111.2 349.3,107.3" fill="url(#g353)" stroke-width="1.04"/>
<polygon points="362.6,104.2 349.3,107.3 362.9,104.7 376.2,101.7" fill="url(#g334)" stroke-width="1.06"/>
<polygon points="389.7,99.6 376.2,101.7 389.7,99.9 403.2,97.9" fill="url(#g315)" stroke-width="1.07"/>
<polygon points="498.2,98.7 484.1,96.8 496.8,97.8 511,99.9" fill="url(#g239)" stroke-width="1.07"/>
<polygon points="416.8,96.8 403.2,97.9 416.5,96.8 430.2,95.8" fill="url(#g296)" stroke-width="1.08"/>
<polygon points="471.1,96.3 457.1,95.4 470.1,95.7 484.1,96.8" fill="url(#g258)" stroke-width="1.08"/>
<polygon points="444,95.7 430.2,95.8 443.3,95.4 457.1,95.4" fill="url(#g277)" stroke-width="1.08"/>
<polygon points="267.5,133.8 254.9,139.9 269.1,134.3 281.7,128.4" fill="url(#g390)" stroke-width="0.99"/>
<polygon points="294.5,123.3 281.7,128.4 295.7,123.6 308.6,118.6" fill="url(#g371)" stroke-width="1.01"/>
<polygon points="321.6,114.4 308.6,118.6 322.5,114.6 335.5,110.6" fill="url(#g352)" stroke-width="1.03"/>
<polygon points="348.8,107.3 335.5,110.6 349.3,107.3 362.6,104.2" fill="url(#g333)" stroke-width="1.05"/>
<polygon points="376.1,102 362.6,104.2 376.2,101.7 389.7,99.6" fill="url(#g314)" stroke-width="1.06"/>
<polygon points="512.6,101.5 498.2,98.7 511,99.9 525.3,102.8" fill="url(#g219)" stroke-width="1.07"/>
<polygon points="253.1,139.9 240.6,146 254.9,139.9 267.5,133.8" fill="url(#g389)" stroke-width="0.98"/>
<polygon points="403.4,98.4 389.7,99.6 403.2,97.9 416.8,96.8" fill="url(#g295)" stroke-width="1.07"/>
<polygon points="485.3,98.1 471.1,96.3 484.1,96.8 498.2,98.7" fill="url(#g238)" stroke-width="1.07"/>
<polygon points="430.7,96.5 416.8,96.8 430.2,95.8 444,95.7" fill="url(#g276)" stroke-width="1.08"/>
<polygon points="458,96.4 444,95.7 457.1,95.4 471.1,96.3" fill="url(#g257)" stroke-width="1.08"/>
<polygon points="280.2,128.5 267.5,133.8 281.7,128.4 294.5,123.3" fill="url(#g370)" stroke-width="1.01"/>
<polygon points="307.5,118.9 294.5,123.3 308.6,118.6 321.6,114.4" fill="url(#g351)" stroke-width="1.03"/>
<polygon points="334.8,111.1 321.6,114.4 335.5,110.6 348.8,107.3" fill="url(#g332)" stroke-width="1.04"/>
<polygon points="238.6,146.6 226.2,152.9 240.6,146 253.1,139.9" fill="url(#g388)" stroke-width="0.97"/>
<polygon points="362.2,104.9 348.8,107.3 362.6,104.2 376.1,102" fill="url(#g313)" stroke-width="1.06"/>
<polygon points="527,105.3 512.6,101.5 525.3,102.8 539.7,106.7" fill="url(#g199)" stroke-width="1.06"/>
<polygon points="389.7,100.6 376.1,102 389.7,99.6 403.4,98.4" fill="url(#g294)" stroke-width="1.07"/>
<polygon points="499.6,100.8 485.3,98.1 498.2,98.7 512.6,101.5" fill="url(#g218)" stroke-width="1.07"/>
<polygon points="417.2,98 403.4,98.4 416.8,96.8 430.7,96.5" fill="url(#g275)" stroke-width="1.08"/>
<polygon points="472.2,98.1 458,96.4 471.1,96.3 485.3,98.1" fill="url(#g237)" stroke-width="1.08"/>
<polygon points="444.7,97.1 430.7,96.5 444,95.7 458,96.4" fill="url(#g256)" stroke-width="1.08"/>
<polygon points="265.9,134.5 253.1,139.9 267.5,133.8 280.2,128.5" fill="url(#g369)" stroke-width="1.00"/>
<polygon points="293.2,124.1 280.2,128.5 294.5,123.3 307.5,118.9" fill="url(#g350)" stroke-width="1.02"/>
<polygon points="320.7,115.4 307.5,118.9 321.6,114.4 334.8,111.1" fill="url(#g331)" stroke-width="1.04"/>
<polygon points="224,154 211.6,160.4 226.2,152.9 238.6,146.6" fill="url(#g387)" stroke-width="0.96"/>
<polygon points="541.7,110 527,105.3 539.7,106.7 554.3,111.5" fill="url(#g179)" stroke-width="1.05"/>
<polygon points="348.2,108.6 334.8,111.1 348.8,107.3 362.2,104.9" fill="url(#g312)" stroke-width="1.05"/>
<polygon points="514.1,104.4 499.6,100.8 512.6,101.5 527,105.3" fill="url(#g198)" stroke-width="1.06"/>
<polygon points="375.9,103.4 362.2,104.9 376.1,102 389.7,100.6" fill="url(#g293)" stroke-width="1.07"/>
<polygon points="251.3,141.1 238.6,146.6 253.1,139.9 265.9,134.5" fill="url(#g368)" stroke-width="0.99"/>
<polygon points="486.6,100.7 472.2,98.1 485.3,98.1 499.6,100.8" fill="url(#g217)" stroke-width="1.07"/>
<polygon points="403.5,100.1 389.7,100.6 403.4,98.4 417.2,98" fill="url(#g274)" stroke-width="1.07"/>
<polygon points="458.9,98.7 444.7,97.1 458,96.4 472.2,98.1" fill="url(#g236)" stroke-width="1.08"/>
<polygon points="431.2,98.5 417.2,98 430.7,96.5 444.7,97.1" fill="url(#g255)" stroke-width="1.08"/>
<polygon points="278.8,129.9 265.9,134.5 280.2,128.5 293.2,124.1" fill="url(#g349)" stroke-width="1.01"/>
<polygon points="209.2,162.1 196.8,168.6 211.6,160.4 224,154" fill="url(#g386)" stroke-width="0.95"/>
<polygon points="306.4,120.5 293.2,124.1 307.5,118.9 320.7,115.4" fill="url(#g330)" stroke-width="1.03"/>
<polygon points="556.5,115.6 541.7,110 554.3,111.5 569.1,117.3" fill="url(#g159)" stroke-width="1.04"/>
<polygon points="334.1,112.8 320.7,115.4 334.8,111.1 348.2,108.6" fill="url(#g311)" stroke-width="1.05"/>
<polygon points="528.8,109 514.1,104.4 527,105.3 541.7,110" fill="url(#g178)" stroke-width="1.05"/>
<polygon points="236.6,148.4 224,154 238.6,146.6 251.3,141.1" fill="url(#g367)" stroke-width="0.98"/>
<polygon points="361.9,106.9 348.2,108.6 362.2,104.9 375.9,103.4" fill="url(#g292)" stroke-width="1.06"/>
<polygon points="501.1,104.2 486.6,100.7 499.6,100.8 514.1,104.4" fill="url(#g197)" stroke-width="1.06"/>
<polygon points="389.7,102.8 375.9,103.4 389.7,100.6 403.5,100.1" fill="url(#g273)" stroke-width="1.07"/>
<polygon points="473.3,101.1 458.9,98.7 472.2,98.1 486.6,100.7" fill="url(#g216)" stroke-width="1.07"/>
<polygon points="417.6,100.4 403.5,100.1 417.2,98 431.2,98.5" fill="url(#g254)" stroke-width="1.07"/>
<polygon points="445.4,99.9 431.2,98.5 444.7,97.1 458.9,98.7" fill="url(#g235)" stroke-width="1.07"/>
<polygon points="264.2,136.4 251.3,141.1 265.9,134.5 278.8,129.9" fill="url(#g348)" stroke-width="1.00"/>
<polygon points="194.3,170.8 182,177.5 196.8,168.6 209.2,162.1" fill="url(#g385)" stroke-width="0.94"/>
<polygon points="291.9,126.2 278.8,129.9 293.2,124.1 306.4,120.5" fill="url(#g329)" stroke-width="1.02"/>
<polygon points="571.4,122.2 556.5,115.6 569.1,117.3 584,124" fill="url(#g139)" stroke-width="1.03"/>
<polygon points="319.8,117.7 306.4,120.5 320.7,115.4 334.1,112.8" fill="url(#g310)" stroke-width="1.04"/>
<polygon points="221.8,156.3 209.2,162.1 224,154 236.6,148.4" fill="url(#g366)" stroke-width="0.97"/>
<polygon points="543.6,114.5 528.8,109 541.7,110 556.5,115.6" fill="url(#g158)" stroke-width="1.04"/>
<polygon points="347.7,111 334.1,112.8 348.2,108.6 361.9,106.9" fill="url(#g291)" stroke-width="1.05"/>
<polygon points="515.8,108.6 501.1,104.2 514.1,104.4 528.8,109" fill="url(#g177)" stroke-width="1.06"/>
<polygon points="375.7,106.1 361.9,106.9 375.9,103.4 389.7,102.8" fill="url(#g272)" stroke-width="1.06"/>
<polygon points="487.8,104.5 473.3,101.1 486.6,100.7 501.1,104.2" fill="url(#g196)" stroke-width="1.07"/>
<polygon points="403.7,103 389.7,102.8 403.5,100.1 417.6,100.4" fill="url(#g253)" stroke-width="1.07"/>
<polygon points="249.5,143.6 236.6,148.4 251.3,141.1 264.2,136.4" fill="url(#g347)" stroke-width="0.99"/>
<polygon points="459.8,102.2 445.4,99.9 458.9,98.7 473.3,101.1" fill="url(#g215)" stroke-width="1.07"/>
<polygon points="431.8,101.7 417.6,100.4 431.2,98.5 445.4,99.9" fill="url(#g234)" stroke-width="1.07"/>
<polygon points="179.2,180.3 166.9,187 182,177.5 194.3,170.8" fill="url(#g384)" stroke-width="0.93"/>
<polygon points="277.3,132.5 264.2,136.4 278.8,129.9 291.9,126.2" fill="url(#g328)" stroke-width="1.01"/>
<polygon points="586.5,129.8 571.4,122.2 584,124 599,131.7" fill="url(#g119)" stroke-width="1.02"/>
<polygon points="206.8,165 194.3,170.8 209.2,162.1 221.8,156.3" fill="url(#g365)" stroke-width="0.96"/>
<polygon points="305.3,123.3 291.9,126.2 306.4,120.5 319.8,117.7" fill="url(#g309)" stroke-width="1.03"/>
<polygon points="558.6,121 543.6,114.5 556.5,115.6 571.4,122.2" fill="url(#g138)" stroke-width="1.03"/>
<polygon points="333.4,115.8 319.8,117.7 334.1,112.8 347.7,111" fill="url(#g290)" stroke-width="1.05"/>
<polygon points="530.6,114.1 515.8,108.6 528.8,109 543.6,114.5" fill="url(#g157)" stroke-width="1.05"/>
<polygon points="361.5,110.1 347.7,111 361.9,106.9 375.7,106.1" fill="url(#g271)" stroke-width="1.06"/>
<polygon points="234.6,151.4 221.8,156.3 236.6,148.4 249.5,143.6" fill="url(#g346)" stroke-width="0.98"/>
<polygon points="502.5,108.9 487.8,104.5 501.1,104.2 515.8,108.6" fill="url(#g176)" stroke-width="1.06"/>
<polygon points="164,190.4 151.8,197.3 166.9,187 179.2,180.3" fill="url(#g383)" stroke-width="0.92"/>
<polygon points="389.7,106.2 375.7,106.1 389.7,102.8 403.7,103" fill="url(#g252)" stroke-width="1.07"/>
<polygon points="474.4,105.5 459.8,102.2 473.3,101.1 487.8,104.5" fill="url(#g195)" stroke-width="1.06"/>
<polygon points="417.9,104.2 403.7,103 417.6,100.4 431.8,101.7" fill="url(#g233)" stroke-width="1.07"/>
<polygon points="446.2,103.9 431.8,101.7 445.4,99.9 459.8,102.2" fill="url(#g214)" stroke-width="1.07"/>
<polygon points="262.5,139.6 249.5,143.6 264.2,136.4 277.3,132.5" fill="url(#g327)" stroke-width="1.00"/>
<polygon points="601.7,138.4 586.5,129.8 599,131.7 614.2,140.3" fill="url(#g99)" stroke-width="1.00"/>
<polygon points="191.7,174.3 179.2,180.3 194.3,170.8 206.8,165" fill="url(#g364)" stroke-width="0.95"/>
<polygon points="290.6,129.5 277.3,132.5 291.9,126.2 305.3,123.3" fill="url(#g308)" stroke-width="1.02"/>
<polygon points="573.7,128.5 558.6,121 571.4,122.2 586.5,129.8" fill="url(#g118)" stroke-width="1.02"/>
<polygon points="318.8,121.3 305.3,123.3 319.8,117.7 333.4,115.8" fill="url(#g289)" stroke-width="1.04"/>
<polygon points="545.6,120.5 530.6,114.1 543.6,114.5 558.6,121" fill="url(#g137)" stroke-width="1.04"/>
<polygon points="219.6,160 206.8,165 221.8,156.3 234.6,151.4" fill="url(#g345)" stroke-width="0.97"/>
<polygon points="148.6,201.3 136.5,208.2 151.8,197.3 164,190.4" fill="url(#g382)" stroke-width="0.91"/>
<polygon points="347.1,114.8 333.4,115.8 347.7,111 361.5,110.1" fill="url(#g270)" stroke-width="1.05"/>
<polygon points="517.4,114.2 502.5,108.9 515.8,108.6 530.6,114.1" fill="url(#g156)" stroke-width="1.05"/>
<polygon points="375.5,110.1 361.5,110.1 375.7,106.1 389.7,106.2" fill="url(#g251)" stroke-width="1.06"/>
<polygon points="489.1,109.7 474.4,105.5 487.8,104.5 502.5,108.9" fill="url(#g175)" stroke-width="1.06"/>
<polygon points="403.9,107.3 389.7,106.2 403.7,103 417.9,104.2" fill="url(#g232)" stroke-width="1.07"/>
<polygon points="460.7,107.1 446.2,103.9 459.8,102.2 474.4,105.5" fill="url(#g194)" stroke-width="1.06"/>
<polygon points="432.3,106.3 417.9,104.2 431.8,101.7 446.2,103.9" fill="url(#g213)" stroke-width="1.07"/>
<polygon points="247.6,147.3 234.6,151.4 249.5,143.6 262.5,139.6" fill="url(#g326)" stroke-width="0.99"/>
<polygon points="617,148 601.7,138.4 614.2,140.3 629.5,150" fill="url(#g79)" stroke-width="0.99"/>
<polygon points="176.4,184.4 164,190.4 179.2,180.3 191.7,174.3" fill="url(#g363)" stroke-width="0.94"/>
<polygon points="275.8,136.5 262.5,139.6 277.3,132.5 290.6,129.5" fill="url(#g307)" stroke-width="1.01"/>
<polygon points="588.9,137 573.7,128.5 586.5,129.8 601.7,138.4" fill="url(#g98)" stroke-width="1.01"/>
<polygon points="133.1,212.9 121.1,219.9 136.5,208.2 148.6,201.3" fill="url(#g381)" stroke-width="0.90"/>
<polygon points="304.2,127.4 290.6,129.5 305.3,123.3 318.8,121.3" fill="url(#g288)" stroke-width="1.03"/>
<polygon points="204.4,169.2 191.7,174.3 206.8,165 219.6,160" fill="url(#g344)" stroke-width="0.96"/>
<polygon points="560.7,127.8 545.6,120.5 558.6,121 573.7,128.5" fill="url(#g117)" stroke-width="1.02"/>
<polygon points="332.6,120.1 318.8,121.3 333.4,115.8 347.1,114.8" fill="url(#g269)" stroke-width="1.04"/>
<polygon points="532.4,120.5 517.4,114.2 530.6,114.1 545.6,120.5" fill="url(#g136)" stroke-width="1.04"/>
<polygon points="361.1,114.7 347.1,114.8 361.5,110.1 375.5,110.1" fill="url(#g250)" stroke-width="1.05"/>
<polygon points="632.5,158.6 617,148 629.5,150 644.9,160.7" fill="url(#g59)" stroke-width="0.98"/>
<polygon points="504,114.9 489.1,109.7 502.5,108.9 517.4,114.2" fill="url(#g155)" stroke-width="1.05"/>
<polygon points="232.5,155.8 219.6,160 234.6,151.4 247.6,147.3" fill="url(#g325)" stroke-width="0.98"/>
<polygon points="389.7,111.1 375.5,110.1 389.7,106.2 403.9,107.3" fill="url(#g231)" stroke-width="1.06"/>
<polygon points="475.5,111.2 460.7,107.1 474.4,105.5 489.1,109.7" fill="url(#g174)" stroke-width="1.06"/>
<polygon points="161,195.2 148.6,201.3 164,190.4 176.4,184.4" fill="url(#g362)" stroke-width="0.93"/>
<polygon points="418.3,109.3 403.9,107.3 417.9,104.2 432.3,106.3" fill="url(#g212)" stroke-width="1.06"/>
<polygon points="446.9,109.3 432.3,106.3 446.2,103.9 460.7,107.1" fill="url(#g193)" stroke-width="1.06"/>
<polygon points="604.3,146.5 588.9,137 601.7,138.4 617,148" fill="url(#g78)" stroke-width="1.00"/>
<polygon points="260.9,144.1 247.6,147.3 262.5,139.6 275.8,136.5" fill="url(#g306)" stroke-width="1.01"/>
<polygon points="117.5,225.2 105.6,232.3 121.1,219.9 133.1,212.9" fill="url(#g380)" stroke-width="0.89"/>
<polygon points="189,179.2 176.4,184.4 191.7,174.3 204.4,169.2" fill="url(#g343)" stroke-width="0.95"/>
<polygon points="576,136.2 560.7,127.8 573.7,128.5 588.9,137" fill="url(#g97)" stroke-width="1.01"/>
<polygon points="289.3,134.2 275.8,136.5 290.6,129.5 304.2,127.4" fill="url(#g287)" stroke-width="1.02"/>
<polygon points="547.6,127.8 532.4,120.5 545.6,120.5 560.7,127.8" fill="url(#g116)" stroke-width="1.03"/>
<polygon points="317.9,126.2 304.2,127.4 318.8,121.3 332.6,120.1" fill="url(#g268)" stroke-width="1.04"/>
<polygon points="648.1,170.2 632.5,158.6 644.9,160.7 660.4,172.4" fill="url(#g39)" stroke-width="0.96"/>
<polygon points="217.3,164.9 204.4,169.2 219.6,160 232.5,155.8" fill="url(#g324)" stroke-width="0.98"/>
<polygon points="145.4,206.7 133.1,212.9 148.6,201.3 161,195.2" fill="url(#g361)" stroke-width="0.92"/>
<polygon points="519,121.1 504,114.9 517.4,114.2 532.4,120.5" fill="url(#g135)" stroke-width="1.04"/>
<polygon points="346.6,119.9 332.6,120.1 347.1,114.8 361.1,114.7" fill="url(#g249)" stroke-width="1.05"/>
<polygon points="490.4,116.3 475.5,111.2 489.1,109.7 504,114.9" fill="url(#g154)" stroke-width="1.05"/>
<polygon points="375.3,115.5 361.1,114.7 375.5,110.1 389.7,111.1" fill="url(#g230)" stroke-width="1.05"/>
<polygon points="461.6,113.3 446.9,109.3 460.7,107.1 475.5,111.2" fill="url(#g173)" stroke-width="1.05"/>
<polygon points="404.1,112.9 389.7,111.1 403.9,107.3 418.3,109.3" fill="url(#g211)" stroke-width="1.06"/>
<polygon points="619.9,157.1 604.3,146.5 617,148 632.5,158.6" fill="url(#g58)" stroke-width="0.98"/>
<polygon points="432.9,112.2 418.3,109.3 432.3,106.3 446.9,109.3" fill="url(#g192)" stroke-width="1.06"/>
<polygon points="245.7,152.4 232.5,155.8 247.6,147.3 260.9,144.1" fill="url(#g305)" stroke-width="1.00"/>
<polygon points="173.6,189.9 161,195.2 176.4,184.4 189,179.2" fill="url(#g342)" stroke-width="0.94"/>
<polygon points="591.5,145.7 576,136.2 588.9,137 604.3,146.5" fill="url(#g77)" stroke-width="1.00"/>
<polygon points="274.3,141.8 260.9,144.1 275.8,136.5 289.3,134.2" fill="url(#g286)" stroke-width="1.01"/>
<polygon points="663.8,182.9 648.1,170.2 660.4,172.4 676.1,185.2" fill="url(#g19)" stroke-width="0.95"/>
<polygon points="562.9,136.1 547.6,127.8 560.7,127.8 576,136.2" fill="url(#g96)" stroke-width="1.01"/>
<polygon points="129.7,218.9 117.5,225.2 133.1,212.9 145.4,206.7" fill="url(#g360)" stroke-width="0.91"/>
<polygon points="303,132.9 289.3,134.2 304.2,127.4 317.9,126.2" fill="url(#g267)" stroke-width="1.03"/>
<polygon points="201.9,174.8 189,179.2 204.4,169.2 217.3,164.9" fill="url(#g323)" stroke-width="0.97"/>
<polygon points="534.2,128.3 519,121.1 532.4,120.5 547.6,127.8" fill="url(#g115)" stroke-width="1.03"/>
<polygon points="331.9,125.8 317.9,126.2 332.6,120.1 346.6,119.9" fill="url(#g248)" stroke-width="1.04"/>
<polygon points="635.5,168.6 619.9,157.1 632.5,158.6 648.1,170.2" fill="url(#g38)" stroke-width="0.97"/>
<polygon points="505.4,122.4 490.4,116.3 504,114.9 519,121.1" fill="url(#g134)" stroke-width="1.04"/>
<polygon points="360.8,120.6 346.6,119.9 361.1,114.7 375.3,115.5" fill="url(#g229)" stroke-width="1.05"/>
<polygon points="230.5,161.5 217.3,164.9 232.5,155.8 245.7,152.4" fill="url(#g304)" stroke-width="0.99"/>
<polygon points="476.6,118.3 461.6,113.3 475.5,111.2 490.4,116.3" fill="url(#g153)" stroke-width="1.05"/>
<polygon points="389.7,117.3 375.3,115.5 389.7,111.1 404.1,112.9" fill="url(#g210)" stroke-width="1.05"/>
<polygon points="447.6,116.1 432.9,112.2 446.9,109.3 461.6,113.3" fill="url(#g172)" stroke-width="1.05"/>
<polygon points="418.7,115.8 404.1,112.9 418.3,109.3 432.9,112.2" fill="url(#g191)" stroke-width="1.05"/>
<polygon points="157.9,201.3 145.4,206.7 161,195.2 173.6,189.9" fill="url(#g341)" stroke-width="0.93"/>
<polygon points="607,156.1 591.5,145.7 604.3,146.5 619.9,157.1" fill="url(#g57)" stroke-width="0.99"/>
<polygon points="259.2,150 245.7,152.4 260.9,144.1 274.3,141.8" fill="url(#g285)" stroke-width="1.01"/>
<polygon points="578.4,145.4 562.9,136.1 576,136.2 591.5,145.7" fill="url(#g76)" stroke-width="1.00"/>
<polygon points="186.4,185.4 173.6,189.9 189,179.2 201.9,174.8" fill="url(#g322)" stroke-width="0.96"/>
<polygon points="288,140.3 274.3,141.8 289.3,134.2 303,132.9" fill="url(#g266)" stroke-width="1.02"/>
<polygon points="651.3,181.2 635.5,168.6 648.1,170.2 663.8,182.9" fill="url(#g18)" stroke-width="0.96"/>
<polygon points="549.6,136.6 534.2,128.3 547.6,127.8 562.9,136.1" fill="url(#g95)" stroke-width="1.02"/>
<polygon points="317,132.4 303,132.9 317.9,126.2 331.9,125.8" fill="url(#g247)" stroke-width="1.03"/>
<polygon points="520.7,129.5 505.4,122.4 519,121.1 534.2,128.3" fill="url(#g114)" stroke-width="1.03"/>
<polygon points="215,171.3 201.9,174.8 217.3,164.9 230.5,161.5" fill="url(#g303)" stroke-width="0.98"/>
<polygon points="142.2,213.5 129.7,218.9 145.4,206.7 157.9,201.3" fill="url(#g340)" stroke-width="0.92"/>
<polygon points="346,126.4 331.9,125.8 346.6,119.9 360.8,120.6" fill="url(#g228)" stroke-width="1.04"/>
<polygon points="491.7,124.3 476.6,118.3 490.4,116.3 505.4,122.4" fill="url(#g133)" stroke-width="1.04"/>
<polygon points="622.7,167.6 607,156.1 619.9,157.1 635.5,168.6" fill="url(#g37)" stroke-width="0.97"/>
<polygon points="375.1,122.3 360.8,120.6 375.3,115.5 389.7,117.3" fill="url(#g209)" stroke-width="1.05"/>
<polygon points="462.6,121 447.6,116.1 461.6,113.3 476.6,118.3" fill="url(#g152)" stroke-width="1.04"/>
<polygon points="404.3,120 389.7,117.3 404.1,112.9 418.7,115.8" fill="url(#g190)" stroke-width="1.05"/>
<polygon points="433.4,119.6 418.7,115.8 432.9,112.2 447.6,116.1" fill="url(#g171)" stroke-width="1.05"/>
<polygon points="243.8,159 230.5,161.5 245.7,152.4 259.2,150" fill="url(#g284)" stroke-width="1.00"/>
<polygon points="594,155.8 578.4,145.4 591.5,145.7 607,156.1" fill="url(#g56)" stroke-width="0.99"/>
<polygon points="170.7,196.8 157.9,201.3 173.6,189.9 186.4,185.4" fill="url(#g321)" stroke-width="0.95"/>
<polygon points="272.8,148.4 259.2,150 274.3,141.8 288,140.3" fill="url(#g265)" stroke-width="1.01"/>
<polygon points="565.1,145.8 549.6,136.6 562.9,136.1 578.4,145.4" fill="url(#g75)" stroke-width="1.00"/>
<polygon points="301.9,139.8 288,140.3 303,132.9 317,132.4" fill="url(#g246)" stroke-width="1.02"/>
<polygon points="199.4,181.8 186.4,185.4 201.9,174.8 215,171.3" fill="url(#g302)" stroke-width="0.97"/>
<polygon points="536.1,137.7 520.7,129.5 534.2,128.3 549.6,136.6" fill="url(#g94)" stroke-width="1.01"/>
<polygon points="638.6,180.2 622.7,167.6 635.5,168.6 651.3,181.2" fill="url(#g17)" stroke-width="0.96"/>
<polygon points="331.1,132.9 317,132.4 331.9,125.8 346,126.4" fill="url(#g227)" stroke-width="1.03"/>
<polygon points="506.9,131.4 491.7,124.3 505.4,122.4 520.7,129.5" fill="url(#g113)" stroke-width="1.03"/>
<polygon points="360.4,128 346,126.4 360.8,120.6 375.1,122.3" fill="url(#g208)" stroke-width="1.04"/>
<polygon points="477.7,126.9 462.6,121 476.6,118.3 491.7,124.3" fill="url(#g132)" stroke-width="1.03"/>
<polygon points="228.4,168.7 215,171.3 230.5,161.5 243.8,159" fill="url(#g283)" stroke-width="0.99"/>
<polygon points="389.7,124.9 375.1,122.3 389.7,117.3 404.3,120" fill="url(#g189)" stroke-width="1.04"/>
<polygon points="448.4,124.4 433.4,119.6 447.6,116.1 462.6,121" fill="url(#g151)" stroke-width="1.04"/>
<polygon points="419,123.7 404.3,120 418.7,115.8 433.4,119.6" fill="url(#g170)" stroke-width="1.04"/>
<polygon points="609.8,167.2 594,155.8 607,156.1 622.7,167.6" fill="url(#g36)" stroke-width="0.98"/>
<polygon points="154.9,208.8 142.2,213.5 157.9,201.3 170.7,196.8" fill="url(#g320)" stroke-width="0.94"/>
<polygon points="257.4,157.3 243.8,159 259.2,150 272.8,148.4" fill="url(#g264)" stroke-width="1.00"/>
<polygon points="580.8,156.1 565.1,145.8 578.4,145.4 594,155.8" fill="url(#g55)" stroke-width="0.99"/>
<polygon points="183.7,193.1 170.7,196.8 186.4,185.4 199.4,181.8" fill="url(#g301)" stroke-width="0.96"/>
<polygon points="286.7,147.8 272.8,148.4 288,140.3 301.9,139.8" fill="url(#g245)" stroke-width="1.02"/>
<polygon points="551.6,146.8 536.1,137.7 549.6,136.6 565.1,145.8" fill="url(#g74)" stroke-width="1.00"/>
<polygon points="316,140.2 301.9,139.8 317,132.4 331.1,132.9" fill="url(#g226)" stroke-width="1.03"/>
<polygon points="522.3,139.4 506.9,131.4 520.7,129.5 536.1,137.7" fill="url(#g93)" stroke-width="1.01"/>
<polygon points="212.7,179.1 199.4,181.8 215,171.3 228.4,168.7" fill="url(#g282)" stroke-width="0.98"/>
<polygon points="345.4,134.4 331.1,132.9 346,126.4 360.4,128" fill="url(#g207)" stroke-width="1.03"/>
<polygon points="625.7,179.7 609.8,167.2 622.7,167.6 638.6,180.2" fill="url(#g16)" stroke-width="0.96"/>
<polygon points="493,133.9 477.7,126.9 491.7,124.3 506.9,131.4" fill="url(#g112)" stroke-width="1.02"/>
<polygon points="374.9,130.5 360.4,128 375.1,122.3 389.7,124.9" fill="url(#g188)" stroke-width="1.04"/>
<polygon points="463.5,130.2 448.4,124.4 462.6,121 477.7,126.9" fill="url(#g131)" stroke-width="1.03"/>
<polygon points="404.5,128.5 389.7,124.9 404.3,120 419,123.7" fill="url(#g169)" stroke-width="1.04"/>
<polygon points="434,128.4 419,123.7 433.4,119.6 448.4,124.4" fill="url(#g150)" stroke-width="1.03"/>
<polygon points="241.9,166.9 228.4,168.7 243.8,159 257.4,157.3" fill="url(#g263)" stroke-width="0.99"/>
<polygon points="596.6,167.5 580.8,156.1 594,155.8 609.8,167.2" fill="url(#g35)" stroke-width="0.98"/>
<polygon points="167.8,205.1 154.9,208.8 170.7,196.8 183.7,193.1" fill="url(#g300)" stroke-width="0.95"/>
<polygon points="271.3,156.6 257.4,157.3 272.8,148.4 286.7,147.8" fill="url(#g244)" stroke-width="1.01"/>
<polygon points="567.3,157.1 551.6,146.8 565.1,145.8 580.8,156.1" fill="url(#g54)" stroke-width="0.99"/>
<polygon points="300.8,148.1 286.7,147.8 301.9,139.8 316,140.2" fill="url(#g225)" stroke-width="1.02"/>
<polygon points="537.9,148.5 522.3,139.4 536.1,137.7 551.6,146.8" fill="url(#g73)" stroke-width="1.00"/>
<polygon points="196.9,190.3 183.7,193.1 199.4,181.8 212.7,179.1" fill="url(#g281)" stroke-width="0.97"/>
<polygon points="330.3,141.5 316,140.2 331.1,132.9 345.4,134.4" fill="url(#g206)" stroke-width="1.03"/>
<polygon points="508.4,141.8 493,133.9 506.9,131.4 522.3,139.4" fill="url(#g92)" stroke-width="1.01"/>
<polygon points="360,136.8 345.4,134.4 360.4,128 374.9,130.5" fill="url(#g187)" stroke-width="1.03"/>
<polygon points="478.8,137 463.5,130.2 477.7,126.9 493,133.9" fill="url(#g111)" stroke-width="1.02"/>
<polygon points="612.5,179.9 596.6,167.5 609.8,167.2 625.7,179.7" fill="url(#g15)" stroke-width="0.97"/>
<polygon points="389.7,134 374.9,130.5 389.7,124.9 404.5,128.5" fill="url(#g168)" stroke-width="1.03"/>
<polygon points="449.1,134.1 434,128.4 448.4,124.4 463.5,130.2" fill="url(#g130)" stroke-width="1.02"/>
<polygon points="226.2,177.3 212.7,179.1 228.4,168.7 241.9,166.9" fill="url(#g262)" stroke-width="0.99"/>
<polygon points="419.4,133.1 404.5,128.5 419,123.7 434,128.4" fill="url(#g149)" stroke-width="1.03"/>
<polygon points="583.2,168.3 567.3,157.1 580.8,156.1 596.6,167.5" fill="url(#g34)" stroke-width="0.98"/>
<polygon points="255.7,166.1 241.9,166.9 257.4,157.3 271.3,156.6" fill="url(#g243)" stroke-width="1.00"/>
<polygon points="181,202.2 167.8,205.1 183.7,193.1 196.9,190.3" fill="url(#g280)" stroke-width="0.96"/>
<polygon points="553.7,158.7 537.9,148.5 551.6,146.8 567.3,157.1" fill="url(#g53)" stroke-width="0.99"/>
<polygon points="285.3,156.8 271.3,156.6 286.7,147.8 300.8,148.1" fill="url(#g224)" stroke-width="1.01"/>
<polygon points="524,150.8 508.4,141.8 522.3,139.4 537.9,148.5" fill="url(#g72)" stroke-width="1.00"/>
<polygon points="315.1,149.4 300.8,148.1 316,140.2 330.3,141.5" fill="url(#g205)" stroke-width="1.02"/>
<polygon points="210.4,188.4 196.9,190.3 212.7,179.1 226.2,177.3" fill="url(#g261)" stroke-width="0.98"/>
<polygon points="494.3,144.9 478.8,137 493,133.9 508.4,141.8" fill="url(#g91)" stroke-width="1.01"/>
<polygon points="344.9,143.9 330.3,141.5 345.4,134.4 360,136.8" fill="url(#g186)" stroke-width="1.02"/>
<polygon points="464.5,140.9 449.1,134.1 463.5,130.2 478.8,137" fill="url(#g110)" stroke-width="1.01"/>
<polygon points="374.7,140.3 360,136.8 374.9,130.5 389.7,134" fill="url(#g167)" stroke-width="1.02"/>
<polygon points="434.6,138.8 419.4,133.1 434,128.4 449.1,134.1" fill="url(#g129)" stroke-width="1.02"/>
<polygon points="404.7,138.6 389.7,134 404.5,128.5 419.4,133.1" fill="url(#g148)" stroke-width="1.02"/>
<polygon points="599.2,180.7 583.2,168.3 596.6,167.5 612.5,179.9" fill="url(#g14)" stroke-width="0.97"/>
<polygon points="240,176.4 226.2,177.3 241.9,166.9 255.7,166.1" fill="url(#g242)" stroke-width="0.99"/>
<polygon points="569.6,169.9 553.7,158.7 567.3,157.1 583.2,168.3" fill="url(#g33)" stroke-width="0.98"/>
<polygon points="269.7,166.3 255.7,166.1 271.3,156.6 285.3,156.8" fill="url(#g223)" stroke-width="1.00"/>
<polygon points="539.8,160.9 524,150.8 537.9,148.5 553.7,158.7" fill="url(#g52)" stroke-width="0.99"/>
<polygon points="299.6,158 285.3,156.8 300.8,148.1 315.1,149.4" fill="url(#g204)" stroke-width="1.01"/>
<polygon points="194.4,200.2 181,202.2 196.9,190.3 210.4,188.4" fill="url(#g260)" stroke-width="0.97"/>
<polygon points="509.9,153.9 494.3,144.9 508.4,141.8 524,150.8" fill="url(#g71)" stroke-width="1.00"/>
<polygon points="329.6,151.7 315.1,149.4 330.3,141.5 344.9,143.9" fill="url(#g185)" stroke-width="1.01"/>
<polygon points="479.9,148.7 464.5,140.9 478.8,137 494.3,144.9" fill="url(#g90)" stroke-width="1.00"/>
<polygon points="359.6,147.2 344.9,143.9 360,136.8 374.7,140.3" fill="url(#g166)" stroke-width="1.02"/>
<polygon points="449.9,145.4 434.6,138.8 449.1,134.1 464.5,140.9" fill="url(#g109)" stroke-width="1.01"/>
<polygon points="389.7,144.7 374.7,140.3 389.7,134 404.7,138.6" fill="url(#g147)" stroke-width="1.02"/>
<polygon points="419.8,144.1 404.7,138.6 419.4,133.1 434.6,138.8" fill="url(#g128)" stroke-width="1.01"/>
<polygon points="224.1,187.4 210.4,188.4 226.2,177.3 240,176.4" fill="url(#g241)" stroke-width="0.98"/>
<polygon points="585.6,182.2 569.6,169.9 583.2,168.3 599.2,180.7" fill="url(#g13)" stroke-width="0.96"/>
<polygon points="254,176.4 240,176.4 255.7,166.1 269.7,166.3" fill="url(#g222)" stroke-width="0.99"/>
<polygon points="555.7,172.1 539.8,160.9 553.7,158.7 569.6,169.9" fill="url(#g32)" stroke-width="0.97"/>
<polygon points="284,167.4 269.7,166.3 285.3,156.8 299.6,158" fill="url(#g203)" stroke-width="1.00"/>
<polygon points="525.7,163.9 509.9,153.9 524,150.8 539.8,160.9" fill="url(#g51)" stroke-width="0.98"/>
<polygon points="314.1,160.2 299.6,158 315.1,149.4 329.6,151.7" fill="url(#g184)" stroke-width="1.01"/>
<polygon points="495.6,157.6 479.9,148.7 494.3,144.9 509.9,153.9" fill="url(#g70)" stroke-width="0.99"/>
<polygon points="344.3,154.9 329.6,151.7 344.9,143.9 359.6,147.2" fill="url(#g165)" stroke-width="1.01"/>
<polygon points="208,199.2 194.4,200.2 210.4,188.4 224.1,187.4" fill="url(#g240)" stroke-width="0.97"/>
<polygon points="465.4,153.2 449.9,145.4 464.5,140.9 479.9,148.7" fill="url(#g89)" stroke-width="1.00"/>
<polygon points="374.6,151.6 359.6,147.2 374.7,140.3 389.7,144.7" fill="url(#g146)" stroke-width="1.01"/>
<polygon points="435.1,150.7 419.8,144.1 434.6,138.8 449.9,145.4" fill="url(#g108)" stroke-width="1.00"/>
<polygon points="404.8,150.2 389.7,144.7 404.7,138.6 419.8,144.1" fill="url(#g127)" stroke-width="1.01"/>
<polygon points="238,187.4 224.1,187.4 240,176.4 254,176.4" fill="url(#g221)" stroke-width="0.98"/>
<polygon points="571.8,184.3 555.7,172.1 569.6,169.9 585.6,182.2" fill="url(#g12)" stroke-width="0.96"/>
<polygon points="268.2,177.5 254,176.4 269.7,166.3 284,167.4" fill="url(#g202)" stroke-width="0.99"/>
<polygon points="541.7,175 525.7,163.9 539.8,160.9 555.7,172.1" fill="url(#g31)" stroke-width="0.97"/>
<polygon points="298.4,169.5 284,167.4 299.6,158 314.1,160.2" fill="url(#g183)" stroke-width="1.00"/>
<polygon points="511.4,167.5 495.6,157.6 509.9,153.9 525.7,163.9" fill="url(#g50)" stroke-width="0.98"/>
<polygon points="328.8,163.4 314.1,160.2 329.6,151.7 344.3,154.9" fill="url(#g164)" stroke-width="1.00"/>
<polygon points="481.1,162 465.4,153.2 479.9,148.7 495.6,157.6" fill="url(#g69)" stroke-width="0.99"/>
<polygon points="359.2,159.2 344.3,154.9 359.6,147.2 374.6,151.6" fill="url(#g145)" stroke-width="1.00"/>
<polygon points="450.7,158.4 435.1,150.7 449.9,145.4 465.4,153.2" fill="url(#g88)" stroke-width="0.99"/>
<polygon points="389.7,157 374.6,151.6 389.7,144.7 404.8,150.2" fill="url(#g126)" stroke-width="1.00"/>
<polygon points="420.2,156.7 404.8,150.2 419.8,144.1 435.1,150.7" fill="url(#g107)" stroke-width="1.00"/>
<polygon points="221.9,199.1 208,199.2 224.1,187.4 238,187.4" fill="url(#g220)" stroke-width="0.98"/>
<polygon points="252.2,188.4 238,187.4 254,176.4 268.2,177.5" fill="url(#g201)" stroke-width="0.98"/>
<polygon points="557.8,187.2 541.7,175 555.7,172.1 571.8,184.3" fill="url(#g11)" stroke-width="0.96"/>
<polygon points="282.6,179.5 268.2,177.5 284,167.4 298.4,169.5" fill="url(#g182)" stroke-width="0.99"/>
<polygon points="527.4,178.6 511.4,167.5 525.7,163.9 541.7,175" fill="url(#g30)" stroke-width="0.97"/>
<polygon points="313.1,172.6 298.4,169.5 314.1,160.2 328.8,163.4" fill="url(#g163)" stroke-width="0.99"/>
<polygon points="497,171.9 481.1,162 495.6,157.6 511.4,167.5" fill="url(#g49)" stroke-width="0.97"/>
<polygon points="343.7,167.6 328.8,163.4 344.3,154.9 359.2,159.2" fill="url(#g144)" stroke-width="0.99"/>
<polygon points="466.4,167.1 450.7,158.4 465.4,153.2 481.1,162" fill="url(#g68)" stroke-width="0.98"/>
<polygon points="374.4,164.5 359.2,159.2 374.6,151.6 389.7,157" fill="url(#g125)" stroke-width="0.99"/>
<polygon points="435.7,164.3 420.2,156.7 435.1,150.7 450.7,158.4" fill="url(#g87)" stroke-width="0.99"/>
<polygon points="405,163.4 389.7,157 404.8,150.2 420.2,156.7" fill="url(#g106)" stroke-width="0.99"/>
<polygon points="236,200 221.9,199.1 238,187.4 252.2,188.4" fill="url(#g200)" stroke-width="0.98"/>
<polygon points="266.6,190.3 252.2,188.4 268.2,177.5 282.6,179.5" fill="url(#g181)" stroke-width="0.98"/>
<polygon points="543.6,190.7 527.4,178.6 541.7,175 557.8,187.2" fill="url(#g10)" stroke-width="0.95"/>
<polygon points="297.2,182.6 282.6,179.5 298.4,169.5 313.1,172.6" fill="url(#g162)" stroke-width="0.99"/>
<polygon points="513,182.8 497,171.9 511.4,167.5 527.4,178.6" fill="url(#g29)" stroke-width="0.96"/>
<polygon points="328,176.7 313.1,172.6 328.8,163.4 343.7,167.6" fill="url(#g143)" stroke-width="0.99"/>
<polygon points="482.2,176.9 466.4,167.1 481.1,162 497,171.9" fill="url(#g48)" stroke-width="0.97"/>
<polygon points="358.8,172.8 343.7,167.6 359.2,159.2 374.4,164.5" fill="url(#g124)" stroke-width="0.99"/>
<polygon points="451.4,173 435.7,164.3 450.7,158.4 466.4,167.1" fill="url(#g67)" stroke-width="0.97"/>
<polygon points="389.7,170.9 374.4,164.5 389.7,157 405,163.4" fill="url(#g105)" stroke-width="0.98"/>
<polygon points="420.6,171 405,163.4 420.2,156.7 435.7,164.3" fill="url(#g86)" stroke-width="0.98"/>
<polygon points="250.4,201.9 236,200 252.2,188.4 266.6,190.3" fill="url(#g180)" stroke-width="0.97"/>
<polygon points="529.2,195 513,182.8 527.4,178.6 543.6,190.7" fill="url(#g9)" stroke-width="0.95"/>
<polygon points="281.2,193.3 266.6,190.3 282.6,179.5 297.2,182.6" fill="url(#g161)" stroke-width="0.98"/>
<polygon points="498.3,187.9 482.2,176.9 497,171.9 513,182.8" fill="url(#g28)" stroke-width="0.96"/>
<polygon points="312.1,186.6 297.2,182.6 313.1,172.6 328,176.7" fill="url(#g142)" stroke-width="0.98"/>
<polygon points="467.3,182.7 451.4,173 466.4,167.1 482.2,176.9" fill="url(#g47)" stroke-width="0.96"/>
<polygon points="343.1,181.9 328,176.7 343.7,167.6 358.8,172.8" fill="url(#g123)" stroke-width="0.98"/>
<polygon points="436.3,179.6 420.6,171 435.7,164.3 451.4,173" fill="url(#g66)" stroke-width="0.97"/>
<polygon points="374.2,179.2 358.8,172.8 374.4,164.5 389.7,170.9" fill="url(#g104)" stroke-width="0.98"/>
<polygon points="405.2,178.4 389.7,170.9 405,163.4 420.6,171" fill="url(#g85)" stroke-width="0.97"/>
<polygon points="265,204.9 250.4,201.9 266.6,190.3 281.2,193.3" fill="url(#g160)" stroke-width="0.97"/>
<polygon points="514.5,199.9 498.3,187.9 513,182.8 529.2,195" fill="url(#g8)" stroke-width="0.94"/>
<polygon points="296,197.3 281.2,193.3 297.2,182.6 312.1,186.6" fill="url(#g141)" stroke-width="0.97"/>
<polygon points="483.4,193.6 467.3,182.7 482.2,176.9 498.3,187.9" fill="url(#g27)" stroke-width="0.95"/>
<polygon points="327.2,191.8 312.1,186.6 328,176.7 343.1,181.9" fill="url(#g122)" stroke-width="0.97"/>
<polygon points="452.2,189.3 436.3,179.6 451.4,173 467.3,182.7" fill="url(#g46)" stroke-width="0.96"/>
<polygon points="358.4,188.2 343.1,181.9 358.8,172.8 374.2,179.2" fill="url(#g103)" stroke-width="0.97"/>
<polygon points="421,186.9 405.2,178.4 420.6,171 436.3,179.6" fill="url(#g65)" stroke-width="0.96"/>
<polygon points="389.7,186.5 374.2,179.2 389.7,170.9 405.2,178.4" fill="url(#g84)" stroke-width="0.96"/>
<polygon points="279.8,208.8 265,204.9 281.2,193.3 296,197.3" fill="url(#g140)" stroke-width="0.96"/>
<polygon points="499.7,205.6 483.4,193.6 498.3,187.9 514.5,199.9" fill="url(#g7)" stroke-width="0.94"/>
<polygon points="311.1,202.4 296,197.3 312.1,186.6 327.2,191.8" fill="url(#g121)" stroke-width="0.96"/>
<polygon points="468.3,200.1 452.2,189.3 467.3,182.7 483.4,193.6" fill="url(#g26)" stroke-width="0.94"/>
<polygon points="342.5,198 327.2,191.8 343.1,181.9 358.4,188.2" fill="url(#g102)" stroke-width="0.96"/>
<polygon points="436.9,196.6 421,186.9 436.3,179.6 452.2,189.3" fill="url(#g45)" stroke-width="0.95"/>
<polygon points="374,195.5 358.4,188.2 374.2,179.2 389.7,186.5" fill="url(#g83)" stroke-width="0.96"/>
<polygon points="405.4,195 389.7,186.5 405.2,178.4 421,186.9" fill="url(#g64)" stroke-width="0.95"/>
<polygon points="294.8,213.8 279.8,208.8 296,197.3 311.1,202.4" fill="url(#g120)" stroke-width="0.95"/>
<polygon points="484.6,212.1 468.3,200.1 483.4,193.6 499.7,205.6" fill="url(#g6)" stroke-width="0.93"/>
<polygon points="326.4,208.5 311.1,202.4 327.2,191.8 342.5,198" fill="url(#g101)" stroke-width="0.95"/>
<polygon points="453,207.4 436.9,196.6 452.2,189.3 468.3,200.1" fill="url(#g25)" stroke-width="0.94"/>
<polygon points="358,205.2 342.5,198 358.4,188.2 374,195.5" fill="url(#g82)" stroke-width="0.95"/>
<polygon points="421.4,204.7 405.4,195 421,186.9 436.9,196.6" fill="url(#g44)" stroke-width="0.94"/>
<polygon points="389.7,203.9 374,195.5 389.7,186.5 405.4,195" fill="url(#g63)" stroke-width="0.95"/>
<polygon points="310.1,219.9 294.8,213.8 311.1,202.4 326.4,208.5" fill="url(#g100)" stroke-width="0.94"/>
<polygon points="469.3,219.3 453,207.4 468.3,200.1 484.6,212.1" fill="url(#g5)" stroke-width="0.92"/>
<polygon points="341.9,215.8 326.4,208.5 342.5,198 358,205.2" fill="url(#g81)" stroke-width="0.94"/>
<polygon points="437.5,215.4 421.4,204.7 436.9,196.6 453,207.4" fill="url(#g24)" stroke-width="0.93"/>
<polygon points="373.8,213.6 358,205.2 374,195.5 389.7,203.9" fill="url(#g62)" stroke-width="0.94"/>
<polygon points="405.6,213.5 389.7,203.9 405.4,195 421.4,204.7" fill="url(#g43)" stroke-width="0.93"/>
<polygon points="325.6,227.1 310.1,219.9 326.4,208.5 341.9,215.8" fill="url(#g80)" stroke-width="0.93"/>
<polygon points="453.8,227.3 437.5,215.4 453,207.4 469.3,219.3" fill="url(#g4)" stroke-width="0.92"/>
<polygon points="357.6,224.1 341.9,215.8 358,205.2 373.8,213.6" fill="url(#g61)" stroke-width="0.93"/>
<polygon points="421.8,224.2 405.6,213.5 421.4,204.7 437.5,215.4" fill="url(#g23)" stroke-width="0.92"/>
<polygon points="389.7,223.2 373.8,213.6 389.7,203.9 405.6,213.5" fill="url(#g42)" stroke-width="0.92"/>
<polygon points="438.1,236.1 421.8,224.2 437.5,215.4 453.8,227.3" fill="url(#g3)" stroke-width="0.91"/>
<polygon points="341.3,235.5 325.6,227.1 341.9,215.8 357.6,224.1" fill="url(#g60)" stroke-width="0.92"/>
<polygon points="405.8,233.8 389.7,223.2 405.6,213.5 421.8,224.2" fill="url(#g22)" stroke-width="0.91"/>
<polygon points="373.6,233.6 357.6,224.1 373.8,213.6 389.7,223.2" fill="url(#g41)" stroke-width="0.92"/>
<polygon points="422.2,245.7 405.8,233.8 421.8,224.2 438.1,236.1" fill="url(#g2)" stroke-width="0.90"/>
<polygon points="357.2,244.9 341.3,235.5 357.6,224.1 373.6,233.6" fill="url(#g40)" stroke-width="0.91"/>
<polygon points="389.7,244.3 373.6,233.6 389.7,223.2 405.8,233.8" fill="url(#g21)" stroke-width="0.90"/>
<polygon points="406,256.1 389.7,244.3 405.8,233.8 422.2,245.7" fill="url(#g1)" stroke-width="0.89"/>
<polygon points="373.4,255.5 357.2,244.9 373.6,233.6 389.7,244.3" fill="url(#g20)" stroke-width="0.90"/>
<polygon points="389.7,267.3 373.4,255.5 389.7,244.3 406,256.1" fill="url(#g0)" stroke-width="0.88"/>
</g>
<circle cx="389.6" cy="112.8" r="5.6" fill="#c80000" stroke="#500000" stroke-width="0.9"/>
<g fill="#000">
<circle cx="97.8" cy="68.4" r="2.6"/>
<circle cx="100.5" cy="126.1" r="2.6"/>
<circle cx="103.3" cy="183.8" r="2.6"/>
<circle cx="106" cy="241.5" r="2.6"/>
<circle cx="108.7" cy="299.2" r="2.6"/>
<circle cx="111.4" cy="356.9" r="2.6"/>
<circle cx="115.7" cy="446.8" r="2.6"/>
<circle cx="170.5" cy="473.2" r="2.6"/>
<circle cx="225.3" cy="499.7" r="2.6"/>
<circle cx="280.1" cy="526.1" r="2.6"/>
<circle cx="334.9" cy="552.6" r="2.6"/>
<circle cx="389.7" cy="579" r="2.6"/>
<circle cx="458.2" cy="546" r="2.6"/>
<circle cx="526.7" cy="512.9" r="2.6"/>
<circle cx="595.2" cy="479.9" r="2.6"/>
<circle cx="663.7" cy="446.8" r="2.6"/>
</g>
<g font-family="'Liberation Sans',sans-serif" font-size="18.5" fill="#111">
<text x="87.5" y="62.5" text-anchor="end">95</text>
<text x="90.2" y="120.2" text-anchor="end">90</text>
<text x="93" y="177.9" text-anchor="end">85</text>
<text x="95.7" y="235.6" text-anchor="end">80</text>
<text x="98.4" y="293.3" text-anchor="end">75</text>
<text x="101.1" y="351" text-anchor="end">70</text>
<text x="104.2" y="465.7" text-anchor="end">250</text>
<text x="159" y="492.1" text-anchor="end">230</text>
<text x="213.8" y="518.6" text-anchor="end">210</text>
<text x="268.6" y="545" text-anchor="end">190</text>
<text x="323.4" y="571.5" text-anchor="end">170</text>
<text x="378.2" y="597.9" text-anchor="end">150</text>
<text x="401.2" y="597.9">5</text>
<text x="469.7" y="564.9">5.5</text>
<text x="538.2" y="531.8">6</text>
<text x="606.7" y="498.8">6.5</text>
<text x="675.2" y="465.7">7</text>
<text x="82.5" y="568.7" textLength="129" lengthAdjust="spacingAndGlyphs">D: speed (rpm)</text>
<text x="608" y="568.8" textLength="47.5" lengthAdjust="spacingAndGlyphs">A: pH</text>
<text transform="translate(14,392.7) rotate(-90)" textLength="261" lengthAdjust="spacingAndGlyphs">COD REMOVAL EFICANCY (%)</text>
</g>
</g>
</svg>
</body></html>
